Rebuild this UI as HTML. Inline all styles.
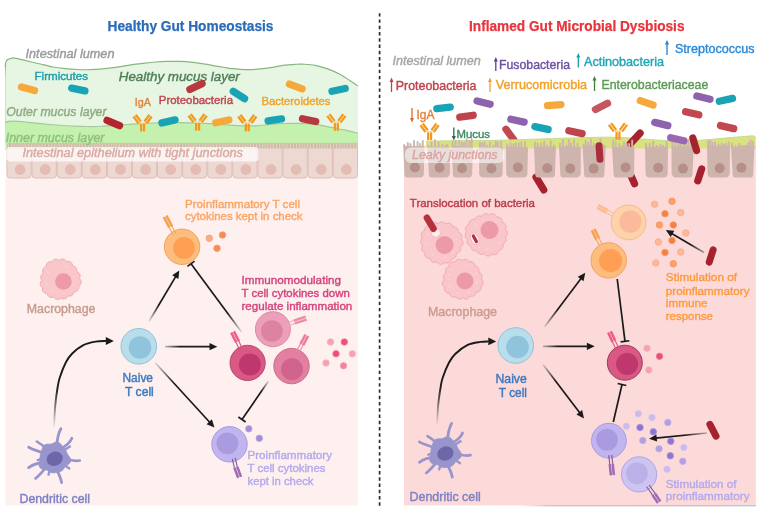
<!DOCTYPE html>
<html><head><meta charset="utf-8"><title>Gut homeostasis vs dysbiosis</title>
<style>
html,body{margin:0;padding:0;background:#fff;}
body{width:763px;height:513px;overflow:hidden;}
svg{display:block;font-family:"Liberation Sans", sans-serif;}
</style></head><body>
<svg width="763" height="513" viewBox="0 0 763 513">
<rect width="763" height="513" fill="#ffffff"/>
<line x1="379.6" y1="13.2" x2="379.6" y2="506" stroke="#2a2a2a" stroke-width="1.7" stroke-dasharray="3.4 2.871"/>
<rect x="5.5" y="176" width="352.5" height="329.4" fill="#fdf0ef"/>
<path d="M5.5,67 C5.52,66.30 5.25,64.03 5.6,62.8 C5.95,61.57 6.62,60.35 7.6,59.6 C8.58,58.85 10.27,58.55 11.5,58.3 C12.73,58.05 12.75,57.75 15,58.1 C17.25,58.45 21.22,59.50 25,60.4 C28.78,61.30 33.87,62.60 37.7,63.5 C41.53,64.40 45.52,65.22 48,65.8 C50.48,66.38 49.73,66.53 52.6,67 C55.47,67.47 61.02,68.18 65.2,68.6 C69.38,69.02 73.52,69.32 77.7,69.5 C81.88,69.68 86.10,69.80 90.3,69.7 C94.50,69.60 98.70,69.28 102.9,68.9 C107.10,68.52 111.32,68.00 115.5,67.4 C119.68,66.80 124.58,65.85 128,65.3 C131.42,64.75 133.57,64.43 136,64.1 C138.43,63.77 139.40,63.65 142.6,63.3 C145.80,62.95 151.02,62.32 155.2,62 C159.38,61.68 163.52,61.50 167.7,61.4 C171.88,61.30 176.10,61.23 180.3,61.4 C184.50,61.57 188.70,61.93 192.9,62.4 C197.10,62.87 201.32,63.53 205.5,64.2 C209.68,64.87 214.58,65.82 218,66.4 C221.42,66.98 223.57,67.32 226,67.7 C228.43,68.08 229.40,68.38 232.6,68.7 C235.80,69.02 241.02,69.52 245.2,69.6 C249.38,69.68 253.52,69.52 257.7,69.2 C261.88,68.88 266.10,68.33 270.3,67.7 C274.50,67.07 278.70,65.97 282.9,65.4 C287.10,64.83 292.22,64.50 295.5,64.3 C298.78,64.10 299.32,64.03 302.6,64.2 C305.88,64.37 311.02,64.52 315.2,65.3 C319.38,66.08 323.52,67.37 327.7,68.9 C331.88,70.43 336.10,72.23 340.3,74.5 C344.50,76.77 349.97,80.55 352.9,82.5 C355.83,84.45 357.07,85.58 357.9,86.2 L357.9,150 L5.5,150 Z" fill="#e7f6e3"/>
<defs><linearGradient id="lb" gradientUnits="userSpaceOnUse" x1="0" y1="62" x2="0" y2="80"><stop offset="0" stop-color="#86b77f"/><stop offset="1" stop-color="#cde6c9"/></linearGradient></defs>
<line x1="5.5" y1="65" x2="5.5" y2="143" stroke="url(#lb)" stroke-width="1.1"/>
<path d="M5.5,67 C5.52,66.30 5.25,64.03 5.6,62.8 C5.95,61.57 6.62,60.35 7.6,59.6 C8.58,58.85 10.27,58.55 11.5,58.3 C12.73,58.05 12.75,57.75 15,58.1 C17.25,58.45 21.22,59.50 25,60.4 C28.78,61.30 33.87,62.60 37.7,63.5 C41.53,64.40 45.52,65.22 48,65.8 C50.48,66.38 49.73,66.53 52.6,67 C55.47,67.47 61.02,68.18 65.2,68.6 C69.38,69.02 73.52,69.32 77.7,69.5 C81.88,69.68 86.10,69.80 90.3,69.7 C94.50,69.60 98.70,69.28 102.9,68.9 C107.10,68.52 111.32,68.00 115.5,67.4 C119.68,66.80 124.58,65.85 128,65.3 C131.42,64.75 133.57,64.43 136,64.1 C138.43,63.77 139.40,63.65 142.6,63.3 C145.80,62.95 151.02,62.32 155.2,62 C159.38,61.68 163.52,61.50 167.7,61.4 C171.88,61.30 176.10,61.23 180.3,61.4 C184.50,61.57 188.70,61.93 192.9,62.4 C197.10,62.87 201.32,63.53 205.5,64.2 C209.68,64.87 214.58,65.82 218,66.4 C221.42,66.98 223.57,67.32 226,67.7 C228.43,68.08 229.40,68.38 232.6,68.7 C235.80,69.02 241.02,69.52 245.2,69.6 C249.38,69.68 253.52,69.52 257.7,69.2 C261.88,68.88 266.10,68.33 270.3,67.7 C274.50,67.07 278.70,65.97 282.9,65.4 C287.10,64.83 292.22,64.50 295.5,64.3 C298.78,64.10 299.32,64.03 302.6,64.2 C305.88,64.37 311.02,64.52 315.2,65.3 C319.38,66.08 323.52,67.37 327.7,68.9 C331.88,70.43 336.10,72.23 340.3,74.5 C344.50,76.77 349.97,80.55 352.9,82.5 C355.83,84.45 357.07,85.58 357.9,86.2" fill="none" stroke="#86b77f" stroke-width="1.2"/>
<path d="M5.5,123.5 C5.63,123.25 5.72,122.37 6.3,122 C6.88,121.63 7.95,121.45 9,121.3 C10.05,121.15 11.10,121.08 12.6,121.1 C14.10,121.12 15.90,121.25 18,121.4 C20.10,121.55 21.92,121.68 25.2,122 C28.48,122.32 33.52,122.88 37.7,123.3 C41.88,123.72 46.08,124.13 50.3,124.5 C54.52,124.87 58.80,125.22 63,125.5 C67.20,125.78 71.33,126.03 75.5,126.2 C79.67,126.37 84.58,126.45 88,126.5 C91.42,126.55 93.57,126.55 96,126.5 C98.43,126.45 99.43,126.38 102.6,126.2 C105.77,126.02 110.82,125.68 115,125.4 C119.18,125.12 123.48,124.80 127.7,124.5 C131.92,124.20 136.10,123.85 140.3,123.6 C144.50,123.35 148.70,123.17 152.9,123 C157.10,122.83 160.98,122.67 165.5,122.6 C170.02,122.53 175.48,122.55 180,122.6 C184.52,122.65 188.40,122.78 192.6,122.9 C196.80,123.02 201.02,123.08 205.2,123.3 C209.38,123.52 213.52,123.88 217.7,124.2 C221.88,124.52 226.10,124.93 230.3,125.2 C234.50,125.47 238.70,125.70 242.9,125.8 C247.10,125.90 251.32,126.00 255.5,125.8 C259.68,125.60 264.58,124.93 268,124.6 C271.42,124.27 273.57,123.98 276,123.8 C278.43,123.62 279.40,123.58 282.6,123.5 C285.80,123.42 291.02,123.28 295.2,123.3 C299.38,123.32 303.52,123.28 307.7,123.6 C311.88,123.92 316.10,124.52 320.3,125.2 C324.50,125.88 328.70,126.87 332.9,127.7 C337.10,128.53 341.33,129.27 345.5,130.2 C349.67,131.13 355.83,132.78 357.9,133.3 L357.9,150 L5.5,150 Z" fill="#c4f1ad"/>
<path d="M5.5,123.5 C5.63,123.25 5.72,122.37 6.3,122 C6.88,121.63 7.95,121.45 9,121.3 C10.05,121.15 11.10,121.08 12.6,121.1 C14.10,121.12 15.90,121.25 18,121.4 C20.10,121.55 21.92,121.68 25.2,122 C28.48,122.32 33.52,122.88 37.7,123.3 C41.88,123.72 46.08,124.13 50.3,124.5 C54.52,124.87 58.80,125.22 63,125.5 C67.20,125.78 71.33,126.03 75.5,126.2 C79.67,126.37 84.58,126.45 88,126.5 C91.42,126.55 93.57,126.55 96,126.5 C98.43,126.45 99.43,126.38 102.6,126.2 C105.77,126.02 110.82,125.68 115,125.4 C119.18,125.12 123.48,124.80 127.7,124.5 C131.92,124.20 136.10,123.85 140.3,123.6 C144.50,123.35 148.70,123.17 152.9,123 C157.10,122.83 160.98,122.67 165.5,122.6 C170.02,122.53 175.48,122.55 180,122.6 C184.52,122.65 188.40,122.78 192.6,122.9 C196.80,123.02 201.02,123.08 205.2,123.3 C209.38,123.52 213.52,123.88 217.7,124.2 C221.88,124.52 226.10,124.93 230.3,125.2 C234.50,125.47 238.70,125.70 242.9,125.8 C247.10,125.90 251.32,126.00 255.5,125.8 C259.68,125.60 264.58,124.93 268,124.6 C271.42,124.27 273.57,123.98 276,123.8 C278.43,123.62 279.40,123.58 282.6,123.5 C285.80,123.42 291.02,123.28 295.2,123.3 C299.38,123.32 303.52,123.28 307.7,123.6 C311.88,123.92 316.10,124.52 320.3,125.2 C324.50,125.88 328.70,126.87 332.9,127.7 C337.10,128.53 341.33,129.27 345.5,130.2 C349.67,131.13 355.83,132.78 357.9,133.3" fill="none" stroke="#a4c89d" stroke-width="1.2"/>
<path d="M7.70,149.2V143.9a0.85,0.85 0 0 1 1.7,0V149.2M10.55,149.2V143.9a0.85,0.85 0 0 1 1.7,0V149.2M13.40,149.2V143.9a0.85,0.85 0 0 1 1.7,0V149.2M16.25,149.2V143.9a0.85,0.85 0 0 1 1.7,0V149.2M19.10,149.2V143.9a0.85,0.85 0 0 1 1.7,0V149.2M21.95,149.2V143.9a0.85,0.85 0 0 1 1.7,0V149.2M24.80,149.2V143.9a0.85,0.85 0 0 1 1.7,0V149.2M27.65,149.2V143.9a0.85,0.85 0 0 1 1.7,0V149.2M30.50,149.2V143.9a0.85,0.85 0 0 1 1.7,0V149.2M33.35,149.2V143.9a0.85,0.85 0 0 1 1.7,0V149.2M36.20,149.2V143.9a0.85,0.85 0 0 1 1.7,0V149.2M39.05,149.2V143.9a0.85,0.85 0 0 1 1.7,0V149.2M41.90,149.2V143.9a0.85,0.85 0 0 1 1.7,0V149.2M44.75,149.2V143.9a0.85,0.85 0 0 1 1.7,0V149.2M47.60,149.2V143.9a0.85,0.85 0 0 1 1.7,0V149.2M50.45,149.2V143.9a0.85,0.85 0 0 1 1.7,0V149.2M53.30,149.2V143.9a0.85,0.85 0 0 1 1.7,0V149.2M56.15,149.2V143.9a0.85,0.85 0 0 1 1.7,0V149.2M59.00,149.2V143.9a0.85,0.85 0 0 1 1.7,0V149.2M61.85,149.2V143.9a0.85,0.85 0 0 1 1.7,0V149.2M64.70,149.2V143.9a0.85,0.85 0 0 1 1.7,0V149.2M67.55,149.2V143.9a0.85,0.85 0 0 1 1.7,0V149.2M70.40,149.2V143.9a0.85,0.85 0 0 1 1.7,0V149.2M73.25,149.2V143.9a0.85,0.85 0 0 1 1.7,0V149.2M76.10,149.2V143.9a0.85,0.85 0 0 1 1.7,0V149.2M78.95,149.2V143.9a0.85,0.85 0 0 1 1.7,0V149.2M81.80,149.2V143.9a0.85,0.85 0 0 1 1.7,0V149.2M84.65,149.2V143.9a0.85,0.85 0 0 1 1.7,0V149.2M87.50,149.2V143.9a0.85,0.85 0 0 1 1.7,0V149.2M90.35,149.2V143.9a0.85,0.85 0 0 1 1.7,0V149.2M93.20,149.2V143.9a0.85,0.85 0 0 1 1.7,0V149.2M96.05,149.2V143.9a0.85,0.85 0 0 1 1.7,0V149.2M98.90,149.2V143.9a0.85,0.85 0 0 1 1.7,0V149.2M101.75,149.2V143.9a0.85,0.85 0 0 1 1.7,0V149.2M104.60,149.2V143.9a0.85,0.85 0 0 1 1.7,0V149.2M107.45,149.2V143.9a0.85,0.85 0 0 1 1.7,0V149.2M110.30,149.2V143.9a0.85,0.85 0 0 1 1.7,0V149.2M113.15,149.2V143.9a0.85,0.85 0 0 1 1.7,0V149.2M116.00,149.2V143.9a0.85,0.85 0 0 1 1.7,0V149.2M118.85,149.2V143.9a0.85,0.85 0 0 1 1.7,0V149.2M121.70,149.2V143.9a0.85,0.85 0 0 1 1.7,0V149.2M124.55,149.2V143.9a0.85,0.85 0 0 1 1.7,0V149.2M127.40,149.2V143.9a0.85,0.85 0 0 1 1.7,0V149.2M130.25,149.2V143.9a0.85,0.85 0 0 1 1.7,0V149.2M133.10,149.2V143.9a0.85,0.85 0 0 1 1.7,0V149.2M135.95,149.2V143.9a0.85,0.85 0 0 1 1.7,0V149.2M138.80,149.2V143.9a0.85,0.85 0 0 1 1.7,0V149.2M141.65,149.2V143.9a0.85,0.85 0 0 1 1.7,0V149.2M144.50,149.2V143.9a0.85,0.85 0 0 1 1.7,0V149.2M147.35,149.2V143.9a0.85,0.85 0 0 1 1.7,0V149.2M150.20,149.2V143.9a0.85,0.85 0 0 1 1.7,0V149.2M153.05,149.2V143.9a0.85,0.85 0 0 1 1.7,0V149.2M155.90,149.2V143.9a0.85,0.85 0 0 1 1.7,0V149.2M158.75,149.2V143.9a0.85,0.85 0 0 1 1.7,0V149.2M161.60,149.2V143.9a0.85,0.85 0 0 1 1.7,0V149.2M164.45,149.2V143.9a0.85,0.85 0 0 1 1.7,0V149.2M167.30,149.2V143.9a0.85,0.85 0 0 1 1.7,0V149.2M170.15,149.2V143.9a0.85,0.85 0 0 1 1.7,0V149.2M173.00,149.2V143.9a0.85,0.85 0 0 1 1.7,0V149.2M175.85,149.2V143.9a0.85,0.85 0 0 1 1.7,0V149.2M178.70,149.2V143.9a0.85,0.85 0 0 1 1.7,0V149.2M181.55,149.2V143.9a0.85,0.85 0 0 1 1.7,0V149.2M184.40,149.2V143.9a0.85,0.85 0 0 1 1.7,0V149.2M187.25,149.2V143.9a0.85,0.85 0 0 1 1.7,0V149.2M190.10,149.2V143.9a0.85,0.85 0 0 1 1.7,0V149.2M192.95,149.2V143.9a0.85,0.85 0 0 1 1.7,0V149.2M195.80,149.2V143.9a0.85,0.85 0 0 1 1.7,0V149.2M198.65,149.2V143.9a0.85,0.85 0 0 1 1.7,0V149.2M201.50,149.2V143.9a0.85,0.85 0 0 1 1.7,0V149.2M204.35,149.2V143.9a0.85,0.85 0 0 1 1.7,0V149.2M207.20,149.2V143.9a0.85,0.85 0 0 1 1.7,0V149.2M210.05,149.2V143.9a0.85,0.85 0 0 1 1.7,0V149.2M212.90,149.2V143.9a0.85,0.85 0 0 1 1.7,0V149.2M215.75,149.2V143.9a0.85,0.85 0 0 1 1.7,0V149.2M218.60,149.2V143.9a0.85,0.85 0 0 1 1.7,0V149.2M221.45,149.2V143.9a0.85,0.85 0 0 1 1.7,0V149.2M224.30,149.2V143.9a0.85,0.85 0 0 1 1.7,0V149.2M227.15,149.2V143.9a0.85,0.85 0 0 1 1.7,0V149.2M230.00,149.2V143.9a0.85,0.85 0 0 1 1.7,0V149.2M232.85,149.2V143.9a0.85,0.85 0 0 1 1.7,0V149.2M235.70,149.2V143.9a0.85,0.85 0 0 1 1.7,0V149.2M238.55,149.2V143.9a0.85,0.85 0 0 1 1.7,0V149.2M241.40,149.2V143.9a0.85,0.85 0 0 1 1.7,0V149.2M244.25,149.2V143.9a0.85,0.85 0 0 1 1.7,0V149.2M247.10,149.2V143.9a0.85,0.85 0 0 1 1.7,0V149.2M249.95,149.2V143.9a0.85,0.85 0 0 1 1.7,0V149.2M252.80,149.2V143.9a0.85,0.85 0 0 1 1.7,0V149.2M255.65,149.2V143.9a0.85,0.85 0 0 1 1.7,0V149.2M258.50,149.2V143.9a0.85,0.85 0 0 1 1.7,0V149.2M261.35,149.2V143.9a0.85,0.85 0 0 1 1.7,0V149.2M264.20,149.2V143.9a0.85,0.85 0 0 1 1.7,0V149.2M267.05,149.2V143.9a0.85,0.85 0 0 1 1.7,0V149.2M269.90,149.2V143.9a0.85,0.85 0 0 1 1.7,0V149.2M272.75,149.2V143.9a0.85,0.85 0 0 1 1.7,0V149.2M275.60,149.2V143.9a0.85,0.85 0 0 1 1.7,0V149.2M278.45,149.2V143.9a0.85,0.85 0 0 1 1.7,0V149.2M281.30,149.2V143.9a0.85,0.85 0 0 1 1.7,0V149.2M284.15,149.2V143.9a0.85,0.85 0 0 1 1.7,0V149.2M287.00,149.2V143.9a0.85,0.85 0 0 1 1.7,0V149.2M289.85,149.2V143.9a0.85,0.85 0 0 1 1.7,0V149.2M292.70,149.2V143.9a0.85,0.85 0 0 1 1.7,0V149.2M295.55,149.2V143.9a0.85,0.85 0 0 1 1.7,0V149.2M298.40,149.2V143.9a0.85,0.85 0 0 1 1.7,0V149.2M301.25,149.2V143.9a0.85,0.85 0 0 1 1.7,0V149.2M304.10,149.2V143.9a0.85,0.85 0 0 1 1.7,0V149.2M306.95,149.2V143.9a0.85,0.85 0 0 1 1.7,0V149.2M309.80,149.2V143.9a0.85,0.85 0 0 1 1.7,0V149.2M312.65,149.2V143.9a0.85,0.85 0 0 1 1.7,0V149.2M315.50,149.2V143.9a0.85,0.85 0 0 1 1.7,0V149.2M318.35,149.2V143.9a0.85,0.85 0 0 1 1.7,0V149.2M321.20,149.2V143.9a0.85,0.85 0 0 1 1.7,0V149.2M324.05,149.2V143.9a0.85,0.85 0 0 1 1.7,0V149.2M326.90,149.2V143.9a0.85,0.85 0 0 1 1.7,0V149.2M329.75,149.2V143.9a0.85,0.85 0 0 1 1.7,0V149.2M332.60,149.2V143.9a0.85,0.85 0 0 1 1.7,0V149.2M335.45,149.2V143.9a0.85,0.85 0 0 1 1.7,0V149.2M338.30,149.2V143.9a0.85,0.85 0 0 1 1.7,0V149.2M341.15,149.2V143.9a0.85,0.85 0 0 1 1.7,0V149.2M344.00,149.2V143.9a0.85,0.85 0 0 1 1.7,0V149.2M346.85,149.2V143.9a0.85,0.85 0 0 1 1.7,0V149.2M349.70,149.2V143.9a0.85,0.85 0 0 1 1.7,0V149.2M352.55,149.2V143.9a0.85,0.85 0 0 1 1.7,0V149.2M355.40,149.2V143.9a0.85,0.85 0 0 1 1.7,0V149.2" fill="#edd9d2" stroke="#c99f97" stroke-width="0.65"/>
<path d="M6.90,148.6 V174.8 a3.2,3.2 0 0 0 3.2,3.2 H28.00 a3.2,3.2 0 0 0 3.2,-3.2 V148.6" fill="#edd9d2" stroke="#dcbab1" stroke-width="0.9"/>
<circle cx="20.05" cy="169.5" r="5.4" fill="#e3bdb3"/>
<path d="M32.00,148.6 V174.8 a3.2,3.2 0 0 0 3.2,3.2 H53.10 a3.2,3.2 0 0 0 3.2,-3.2 V148.6" fill="#edd9d2" stroke="#dcbab1" stroke-width="0.9"/>
<circle cx="45.15" cy="169.5" r="5.4" fill="#e3bdb3"/>
<path d="M57.10,148.6 V174.8 a3.2,3.2 0 0 0 3.2,3.2 H78.20 a3.2,3.2 0 0 0 3.2,-3.2 V148.6" fill="#edd9d2" stroke="#dcbab1" stroke-width="0.9"/>
<circle cx="70.25" cy="169.5" r="5.4" fill="#e3bdb3"/>
<path d="M82.20,148.6 V174.8 a3.2,3.2 0 0 0 3.2,3.2 H103.30 a3.2,3.2 0 0 0 3.2,-3.2 V148.6" fill="#edd9d2" stroke="#dcbab1" stroke-width="0.9"/>
<circle cx="95.35" cy="169.5" r="5.4" fill="#e3bdb3"/>
<path d="M107.30,148.6 V174.8 a3.2,3.2 0 0 0 3.2,3.2 H128.40 a3.2,3.2 0 0 0 3.2,-3.2 V148.6" fill="#edd9d2" stroke="#dcbab1" stroke-width="0.9"/>
<circle cx="120.45" cy="169.5" r="5.4" fill="#e3bdb3"/>
<path d="M132.40,148.6 V174.8 a3.2,3.2 0 0 0 3.2,3.2 H153.50 a3.2,3.2 0 0 0 3.2,-3.2 V148.6" fill="#edd9d2" stroke="#dcbab1" stroke-width="0.9"/>
<circle cx="145.55" cy="169.5" r="5.4" fill="#e3bdb3"/>
<path d="M157.50,148.6 V174.8 a3.2,3.2 0 0 0 3.2,3.2 H178.60 a3.2,3.2 0 0 0 3.2,-3.2 V148.6" fill="#edd9d2" stroke="#dcbab1" stroke-width="0.9"/>
<circle cx="170.65" cy="169.5" r="5.4" fill="#e3bdb3"/>
<path d="M182.60,148.6 V174.8 a3.2,3.2 0 0 0 3.2,3.2 H203.70 a3.2,3.2 0 0 0 3.2,-3.2 V148.6" fill="#edd9d2" stroke="#dcbab1" stroke-width="0.9"/>
<circle cx="195.75" cy="169.5" r="5.4" fill="#e3bdb3"/>
<path d="M207.70,148.6 V174.8 a3.2,3.2 0 0 0 3.2,3.2 H228.80 a3.2,3.2 0 0 0 3.2,-3.2 V148.6" fill="#edd9d2" stroke="#dcbab1" stroke-width="0.9"/>
<circle cx="220.85" cy="169.5" r="5.4" fill="#e3bdb3"/>
<path d="M232.80,148.6 V174.8 a3.2,3.2 0 0 0 3.2,3.2 H253.90 a3.2,3.2 0 0 0 3.2,-3.2 V148.6" fill="#edd9d2" stroke="#dcbab1" stroke-width="0.9"/>
<circle cx="245.95" cy="169.5" r="5.4" fill="#e3bdb3"/>
<path d="M257.90,148.6 V174.8 a3.2,3.2 0 0 0 3.2,3.2 H279.00 a3.2,3.2 0 0 0 3.2,-3.2 V148.6" fill="#edd9d2" stroke="#dcbab1" stroke-width="0.9"/>
<circle cx="271.05" cy="169.5" r="5.4" fill="#e3bdb3"/>
<path d="M283.00,148.6 V174.8 a3.2,3.2 0 0 0 3.2,3.2 H304.10 a3.2,3.2 0 0 0 3.2,-3.2 V148.6" fill="#edd9d2" stroke="#dcbab1" stroke-width="0.9"/>
<circle cx="296.15" cy="169.5" r="5.4" fill="#e3bdb3"/>
<path d="M308.10,148.6 V174.8 a3.2,3.2 0 0 0 3.2,3.2 H329.20 a3.2,3.2 0 0 0 3.2,-3.2 V148.6" fill="#edd9d2" stroke="#dcbab1" stroke-width="0.9"/>
<circle cx="321.25" cy="169.5" r="5.4" fill="#e3bdb3"/>
<path d="M333.20,148.6 V174.8 a3.2,3.2 0 0 0 3.2,3.2 H354.30 a3.2,3.2 0 0 0 3.2,-3.2 V148.6" fill="#edd9d2" stroke="#dcbab1" stroke-width="0.9"/>
<circle cx="346.35" cy="169.5" r="5.4" fill="#e3bdb3"/>
<rect x="6.3" y="147" width="252.3" height="14.6" rx="4" fill="#ffffff" opacity="0.72"/>
<text x="25.5" y="57.9" font-size="12.4" fill="#9b9b9b" stroke="#9b9b9b" stroke-width="0.4" font-style="italic" textLength="89.0" lengthAdjust="spacingAndGlyphs" >Intestinal lumen</text>
<text x="34.5" y="80.1" font-size="11.5" fill="#1d9cab" stroke="#1d9cab" stroke-width="0.4" textLength="53.5" lengthAdjust="spacingAndGlyphs" >Firmicutes</text>
<text x="118.8" y="81.2" font-size="13.3" fill="#4e7f57" stroke="#4e7f57" stroke-width="0.4" font-style="italic" textLength="121.0" lengthAdjust="spacingAndGlyphs" >Healthy mucus layer</text>
<text x="134.7" y="106.2" font-size="11.6" fill="#e2853f" stroke="#e2853f" stroke-width="0.4" textLength="16.1" lengthAdjust="spacingAndGlyphs" >IgA</text>
<text x="158.8" y="104.4" font-size="11.6" fill="#c0434c" stroke="#c0434c" stroke-width="0.4" textLength="74.2" lengthAdjust="spacingAndGlyphs" >Proteobacteria</text>
<text x="261.5" y="105.1" font-size="11.6" fill="#f0a226" stroke="#f0a226" stroke-width="0.4" textLength="69.0" lengthAdjust="spacingAndGlyphs" >Bacteroidetes</text>
<text x="6.3" y="116.1" font-size="12.5" fill="#8dab82" stroke="#8dab82" stroke-width="0.4" font-style="italic" textLength="100.2" lengthAdjust="spacingAndGlyphs" >Outer mucus layer</text>
<text x="5.7" y="141.5" font-size="12.5" fill="#8fc07e" stroke="#8fc07e" stroke-width="0.4" font-style="italic" textLength="98.8" lengthAdjust="spacingAndGlyphs" >Inner mucus layer</text>
<text x="22.4" y="156.7" font-size="12.4" fill="#dba8a2" stroke="#dba8a2" stroke-width="0.4" font-style="italic" textLength="220.6" lengthAdjust="spacingAndGlyphs" >Intestinal epithelium with tight junctions</text>
<rect x="-10.4" y="-3.65" width="20.8" height="7.3" rx="3.65" fill="#f6a93b" opacity="1" transform="translate(28 88.8) rotate(15)" />
<rect x="-10.4" y="-3.65" width="20.8" height="7.3" rx="3.65" fill="#18a4b4" opacity="1" transform="translate(78.3 89.5) rotate(12)" />
<rect x="-10.4" y="-3.65" width="20.8" height="7.3" rx="3.65" fill="#b3242e" opacity="1" transform="translate(113.3 123) rotate(22.7)" />
<rect x="-10.4" y="-3.65" width="20.8" height="7.3" rx="3.65" fill="#18a4b4" opacity="1" transform="translate(168.5 121.4) rotate(-13)" />
<rect x="-10.4" y="-3.65" width="20.8" height="7.3" rx="3.65" fill="#b83840" opacity="1" transform="translate(196 86.5) rotate(-25)" />
<rect x="-10.4" y="-3.65" width="20.8" height="7.3" rx="3.65" fill="#18a4b4" opacity="1" transform="translate(238.9 95) rotate(33)" />
<rect x="-10.4" y="-3.65" width="20.8" height="7.3" rx="3.65" fill="#f6a93b" opacity="1" transform="translate(295.8 86.5) rotate(21)" />
<rect x="-10.4" y="-3.65" width="20.8" height="7.3" rx="3.65" fill="#18a4b4" opacity="1" transform="translate(338.6 89.9) rotate(-12)" />
<rect x="-10.4" y="-3.65" width="20.8" height="7.3" rx="3.65" fill="#f6a93b" opacity="1" transform="translate(222.3 121.4) rotate(-12)" />
<rect x="-10.4" y="-3.65" width="20.8" height="7.3" rx="3.65" fill="#18a4b4" opacity="1" transform="translate(274.8 119.9) rotate(-8)" />
<rect x="-10.4" y="-3.65" width="20.8" height="7.3" rx="3.65" fill="#b83840" opacity="1" transform="translate(309.1 120.1) rotate(12)" />
<g transform="translate(142.6 131.4) scale(1.0)"><rect x="-2.6" y="-9.2" width="2.3" height="9.2" fill="#f39a1e"/><rect x="0.3" y="-9.2" width="2.3" height="9.2" fill="#f39a1e"/><rect x="-2.6" y="-9.4" width="5.2" height="1.8" fill="#fbe3c0" opacity="0.8"/><g transform="translate(-2.6 -8.6) rotate(-37)"><rect x="-2.6" y="-9" width="2.3" height="8.4" fill="#f39a1e"/><rect x="0.3" y="-9" width="2.3" height="8.4" fill="#f39a1e"/></g><g transform="translate(2.6 -8.6) rotate(37)"><rect x="0.3" y="-9" width="2.3" height="8.4" fill="#f39a1e"/><rect x="-2.6" y="-9" width="2.3" height="8.4" fill="#f39a1e"/></g></g>
<g transform="translate(197.6 130.6) scale(1.0)"><rect x="-2.6" y="-9.2" width="2.3" height="9.2" fill="#f39a1e"/><rect x="0.3" y="-9.2" width="2.3" height="9.2" fill="#f39a1e"/><rect x="-2.6" y="-9.4" width="5.2" height="1.8" fill="#fbe3c0" opacity="0.8"/><g transform="translate(-2.6 -8.6) rotate(-37)"><rect x="-2.6" y="-9" width="2.3" height="8.4" fill="#f39a1e"/><rect x="0.3" y="-9" width="2.3" height="8.4" fill="#f39a1e"/></g><g transform="translate(2.6 -8.6) rotate(37)"><rect x="0.3" y="-9" width="2.3" height="8.4" fill="#f39a1e"/><rect x="-2.6" y="-9" width="2.3" height="8.4" fill="#f39a1e"/></g></g>
<g transform="translate(247.3 131.4) scale(1.0)"><rect x="-2.6" y="-9.2" width="2.3" height="9.2" fill="#f39a1e"/><rect x="0.3" y="-9.2" width="2.3" height="9.2" fill="#f39a1e"/><rect x="-2.6" y="-9.4" width="5.2" height="1.8" fill="#fbe3c0" opacity="0.8"/><g transform="translate(-2.6 -8.6) rotate(-37)"><rect x="-2.6" y="-9" width="2.3" height="8.4" fill="#f39a1e"/><rect x="0.3" y="-9" width="2.3" height="8.4" fill="#f39a1e"/></g><g transform="translate(2.6 -8.6) rotate(37)"><rect x="0.3" y="-9" width="2.3" height="8.4" fill="#f39a1e"/><rect x="-2.6" y="-9" width="2.3" height="8.4" fill="#f39a1e"/></g></g>
<g transform="translate(336.4 130.8) scale(1.0)"><rect x="-2.6" y="-9.2" width="2.3" height="9.2" fill="#f39a1e"/><rect x="0.3" y="-9.2" width="2.3" height="9.2" fill="#f39a1e"/><rect x="-2.6" y="-9.4" width="5.2" height="1.8" fill="#fbe3c0" opacity="0.8"/><g transform="translate(-2.6 -8.6) rotate(-37)"><rect x="-2.6" y="-9" width="2.3" height="8.4" fill="#f39a1e"/><rect x="0.3" y="-9" width="2.3" height="8.4" fill="#f39a1e"/></g><g transform="translate(2.6 -8.6) rotate(37)"><rect x="0.3" y="-9" width="2.3" height="8.4" fill="#f39a1e"/><rect x="-2.6" y="-9" width="2.3" height="8.4" fill="#f39a1e"/></g></g>
<text x="107.5" y="30.8" font-size="14.0" fill="#2a6cb8" stroke="#2a6cb8" stroke-width="0.25" font-weight="bold" textLength="166.0" lengthAdjust="spacingAndGlyphs" >Healthy Gut Homeostasis</text>
<path d="M80.25,279.40 L80.80,280.33 L81.14,281.28 L81.24,282.25 L81.09,283.19 L80.72,284.08 L80.12,284.90 L79.30,285.61 L78.78,286.37 L78.93,287.41 L78.85,288.38 L78.56,289.28 L78.07,290.08 L77.39,290.75 L76.55,291.28 L75.56,291.65 L74.45,291.85 L73.90,292.50 L73.61,293.43 L73.16,294.23 L72.57,294.91 L71.86,295.45 L71.04,295.82 L70.13,296.01 L69.15,296.03 L68.11,295.83 L67.58,296.67 L66.99,297.49 L66.29,298.15 L65.51,298.63 L64.65,298.91 L63.75,298.97 L62.83,298.82 L61.92,298.47 L61.04,298.02 L60.20,298.75 L59.31,299.22 L58.39,299.49 L57.47,299.54 L56.58,299.37 L55.73,298.99 L54.95,298.41 L54.27,297.65 L53.51,297.21 L52.47,297.47 L51.47,297.52 L50.53,297.38 L49.66,297.04 L48.90,296.53 L48.25,295.84 L47.75,295.01 L47.41,294.03 L46.62,293.61 L45.55,293.41 L44.61,293.02 L43.80,292.48 L43.17,291.77 L42.73,290.93 L42.49,289.98 L42.45,288.95 L42.68,287.84 L41.91,287.22 L41.17,286.54 L40.64,285.76 L40.31,284.89 L40.21,283.96 L40.33,283.01 L40.66,282.05 L41.21,281.11 L41.83,280.23 L41.26,279.40 L40.93,278.53 L40.78,277.65 L40.81,276.77 L41.04,275.92 L41.45,275.12 L42.03,274.38 L42.77,273.74 L43.16,273.01 L42.84,271.98 L42.72,270.98 L42.79,270.03 L43.04,269.15 L43.48,268.37 L44.09,267.70 L44.86,267.17 L45.78,266.80 L46.16,265.97 L46.32,264.88 L46.67,263.91 L47.20,263.09 L47.88,262.44 L48.71,261.99 L49.64,261.73 L50.67,261.68 L51.77,261.89 L52.37,261.08 L53.04,260.31 L53.81,259.73 L54.66,259.34 L55.58,259.17 L56.53,259.20 L57.50,259.45 L58.44,259.90 L59.35,260.42 L60.20,259.76 L61.10,259.35 L62.02,259.13 L62.95,259.12 L63.84,259.32 L64.69,259.72 L65.46,260.33 L66.14,261.12 L66.88,261.60 L67.90,261.38 L68.87,261.39 L69.78,261.60 L70.59,262.02 L71.28,262.62 L71.83,263.39 L72.24,264.31 L72.47,265.36 L73.15,265.86 L74.09,266.12 L74.93,266.53 L75.62,267.10 L76.17,267.80 L76.55,268.60 L76.77,269.50 L76.81,270.46 L76.63,271.49 L77.49,272.01 L78.36,272.59 L79.07,273.27 L79.60,274.05 L79.95,274.89 L80.09,275.79 L80.04,276.71 L79.78,277.64 L79.43,278.54Z" fill="#f9c6ca" stroke="#f4a9b2" stroke-width="1" stroke-linejoin="round"/>
<circle cx="73.6" cy="285.1" r="0.8" fill="#fcdcde"/>
<circle cx="46.5" cy="284.4" r="0.8" fill="#fcdcde"/>
<circle cx="66.8" cy="266.4" r="0.8" fill="#fcdcde"/>
<circle cx="64.3" cy="293.4" r="0.8" fill="#fcdcde"/>
<circle cx="47.7" cy="272.0" r="0.8" fill="#fcdcde"/>
<circle cx="74.4" cy="276.3" r="0.8" fill="#fcdcde"/>
<circle cx="52.0" cy="291.4" r="0.8" fill="#fcdcde"/>
<circle cx="63.4" cy="281.5" r="8.3" fill="#ec9aa6"/>
<text x="26.8" y="312.6" font-size="12.3" fill="#c99a8e" stroke="#c99a8e" stroke-width="0.4" textLength="68.7" lengthAdjust="spacingAndGlyphs" >Macrophage</text>
<defs><linearGradient id="g1" gradientUnits="userSpaceOnUse" x1="148" y1="323" x2="179" y2="271"><stop offset="0" stop-color="#1a1a1a" stop-opacity="0"/><stop offset="0.35" stop-color="#1a1a1a" stop-opacity="1"/><stop offset="1" stop-color="#1a1a1a" stop-opacity="1"/></linearGradient></defs>
<line x1="149.00" y1="321.50" x2="175.83" y2="276.35" stroke="url(#g1)" stroke-width="1.7"/>
<polygon points="179.30,270.50 178.41,279.04 172.22,275.37" fill="#1a1a1a"/>
<defs><linearGradient id="g2" gradientUnits="userSpaceOnUse" x1="160" y1="346.7" x2="217" y2="346.7"><stop offset="0" stop-color="#1a1a1a" stop-opacity="0"/><stop offset="0.35" stop-color="#1a1a1a" stop-opacity="1"/><stop offset="1" stop-color="#1a1a1a" stop-opacity="1"/></linearGradient></defs>
<line x1="165.00" y1="346.70" x2="210.50" y2="346.70" stroke="url(#g2)" stroke-width="1.7"/>
<polygon points="217.30,346.70 209.50,350.30 209.50,343.10" fill="#1a1a1a"/>
<defs><linearGradient id="g3" gradientUnits="userSpaceOnUse" x1="153" y1="360" x2="214" y2="427"><stop offset="0" stop-color="#1a1a1a" stop-opacity="0"/><stop offset="0.35" stop-color="#1a1a1a" stop-opacity="1"/><stop offset="1" stop-color="#1a1a1a" stop-opacity="1"/></linearGradient></defs>
<line x1="155.00" y1="362.50" x2="209.91" y2="422.48" stroke="url(#g3)" stroke-width="1.7"/>
<polygon points="214.50,427.50 206.58,424.18 211.89,419.32" fill="#1a1a1a"/>
<defs><linearGradient id="g4" gradientUnits="userSpaceOnUse" x1="243" y1="334" x2="191" y2="264"><stop offset="0" stop-color="#1a1a1a" stop-opacity="0"/><stop offset="0.3" stop-color="#1a1a1a" stop-opacity="1"/><stop offset="1" stop-color="#1a1a1a" stop-opacity="1"/></linearGradient></defs>
<line x1="241.50" y1="332.00" x2="191.00" y2="263.80" stroke="url(#g4)" stroke-width="1.7"/>
<line x1="194.54" y1="261.18" x2="187.46" y2="266.42" stroke="#1a1a1a" stroke-width="1.7"/>
<defs><linearGradient id="g5" gradientUnits="userSpaceOnUse" x1="270" y1="380" x2="242" y2="419.5"><stop offset="0" stop-color="#1a1a1a" stop-opacity="0"/><stop offset="0.3" stop-color="#1a1a1a" stop-opacity="1"/><stop offset="1" stop-color="#1a1a1a" stop-opacity="1"/></linearGradient></defs>
<line x1="268.50" y1="381.00" x2="242.00" y2="419.50" stroke="url(#g5)" stroke-width="1.7"/>
<line x1="238.38" y1="417.01" x2="245.62" y2="421.99" stroke="#1a1a1a" stroke-width="1.7"/>
<defs><linearGradient id="g6" gradientUnits="userSpaceOnUse" x1="54" y1="428" x2="54" y2="340"><stop offset="0" stop-color="#1a1a1a" stop-opacity="0"/><stop offset="0.45" stop-color="#1a1a1a" stop-opacity="1"/><stop offset="1" stop-color="#1a1a1a" stop-opacity="1"/></linearGradient></defs>
<path d="M54,428 C54.20,424.33 54.62,412.67 55.2,406 C55.78,399.33 56.73,392.75 57.5,388 C58.27,383.25 58.40,381.78 59.8,377.5 C61.20,373.22 63.83,366.30 65.9,362.3 C67.97,358.30 69.37,356.33 72.2,353.5 C75.03,350.67 79.02,347.28 82.9,345.3 C86.78,343.32 91.62,342.33 95.5,341.6 C99.38,340.87 104.42,341.02 106.2,340.9" fill="none" stroke="url(#g6)" stroke-width="1.9"/>
<polygon points="113.8,341 105.8,337.1 105.8,344.9" fill="#1a1a1a"/>
<circle cx="182.1" cy="246.8" r="17.7" fill="#fdbd7e" stroke="#f3a35c" stroke-width="1"/>
<circle cx="184" cy="248" r="10.9" fill="#ff9f54"/>
<line x1="172.08" y1="226.31" x2="175.83" y2="233.81" stroke="#f5a55c" stroke-width="1.1"/>
<line x1="166.43" y1="215.61" x2="172.08" y2="226.31" stroke="#f6a04c" stroke-width="2.5"/>
<line x1="169.42" y1="227.69" x2="173.17" y2="235.19" stroke="#f5a55c" stroke-width="1.1"/>
<line x1="163.77" y1="216.99" x2="169.42" y2="227.69" stroke="#f6a04c" stroke-width="2.5"/>
<circle cx="209.3" cy="238.3" r="3.25" fill="#f9ad86" stroke="#f7a078" stroke-width="0.8"/>
<circle cx="222.5" cy="235" r="3.25" fill="#f58c52" stroke="#f79a66" stroke-width="0.8"/>
<circle cx="217" cy="248.3" r="3.25" fill="#f58c52" stroke="#f79a66" stroke-width="0.8"/>
<text x="185" y="207.6" font-size="11.6" fill="#fba564" stroke="#fba564" stroke-width="0.4" textLength="115" lengthAdjust="spacingAndGlyphs" >Proinflammatory T cell</text>
<text x="185" y="220.2" font-size="11.6" fill="#fba564" stroke="#fba564" stroke-width="0.4" textLength="117.5" lengthAdjust="spacingAndGlyphs" >cytokines kept in check</text>
<circle cx="138.8" cy="346.3" r="17.8" fill="#b9deeb" stroke="#8fc3d9" stroke-width="1"/>
<circle cx="140" cy="347.5" r="11.3" fill="#90c4dc"/>
<text x="122.5" y="381.9" font-size="12.3" fill="#3b78bf" stroke="#3b78bf" stroke-width="0.4" textLength="30.5" lengthAdjust="spacingAndGlyphs" >Naive</text>
<text x="125" y="395.6" font-size="12.3" fill="#3b78bf" stroke="#3b78bf" stroke-width="0.4" textLength="28.8" lengthAdjust="spacingAndGlyphs" >T cell</text>
<circle cx="272.9" cy="329.2" r="17.5" fill="#eb9fb9" stroke="#de8aa6" stroke-width="1"/>
<circle cx="271.9" cy="331" r="10.8" fill="#dc83a2"/>
<line x1="294.69" y1="323.42" x2="287.19" y2="326.42" stroke="#f4a8bd" stroke-width="1.1"/>
<line x1="306.69" y1="319.62" x2="294.69" y2="323.42" stroke="#f08aa6" stroke-width="2.5"/>
<line x1="293.71" y1="320.58" x2="286.21" y2="323.58" stroke="#f4a8bd" stroke-width="1.1"/>
<line x1="305.71" y1="316.78" x2="293.71" y2="320.58" stroke="#f08aa6" stroke-width="2.5"/>
<circle cx="247.6" cy="362.9" r="17.6" fill="#d95884" stroke="#b4466e" stroke-width="1"/>
<circle cx="249.9" cy="364.5" r="11" fill="#bf386d"/>
<line x1="238.95" y1="341.35" x2="242.75" y2="349.65" stroke="#e0507c" stroke-width="1.1"/>
<line x1="233.95" y1="331.35" x2="238.95" y2="341.35" stroke="#f06088" stroke-width="2.5"/>
<line x1="236.25" y1="342.65" x2="240.05" y2="350.95" stroke="#e0507c" stroke-width="1.1"/>
<line x1="231.25" y1="332.65" x2="236.25" y2="342.65" stroke="#f06088" stroke-width="2.5"/>
<circle cx="291.5" cy="366.1" r="17.7" fill="#e37fa0" stroke="#c86c8a" stroke-width="1"/>
<circle cx="292" cy="369.2" r="11" fill="#d0648c"/>
<line x1="303.11" y1="345.33" x2="298.71" y2="352.83" stroke="#ea8aa6" stroke-width="1.1"/>
<line x1="308.11" y1="335.93" x2="303.11" y2="345.33" stroke="#f07a9a" stroke-width="2.5"/>
<line x1="300.49" y1="343.87" x2="296.09" y2="351.37" stroke="#ea8aa6" stroke-width="1.1"/>
<line x1="305.49" y1="334.47" x2="300.49" y2="343.87" stroke="#f07a9a" stroke-width="2.5"/>
<circle cx="330.5" cy="342" r="3.25" fill="#f7a0b4" stroke="#f9b2c2" stroke-width="0.8"/>
<circle cx="344.3" cy="342" r="3.25" fill="#ea4f7a" stroke="#f27b9b" stroke-width="0.8"/>
<circle cx="336" cy="353.8" r="3.25" fill="#ea4f7a" stroke="#f27b9b" stroke-width="0.8"/>
<circle cx="352.3" cy="353.8" r="3.25" fill="#f7a0b4" stroke="#f9b2c2" stroke-width="0.8"/>
<circle cx="326" cy="363" r="3.25" fill="#f7a0b4" stroke="#f9b2c2" stroke-width="0.8"/>
<circle cx="343.5" cy="365.8" r="3.25" fill="#f4829d" stroke="#f8a2b6" stroke-width="0.8"/>
<text x="241.5" y="284.4" font-size="11.6" fill="#d3447c" stroke="#d3447c" stroke-width="0.4" textLength="99.5" lengthAdjust="spacingAndGlyphs" >Immunomodulating</text>
<text x="241.5" y="296.8" font-size="11.6" fill="#d3447c" stroke="#d3447c" stroke-width="0.4" textLength="108.3" lengthAdjust="spacingAndGlyphs" >T cell cytokines down</text>
<text x="241.5" y="309.9" font-size="11.6" fill="#d3447c" stroke="#d3447c" stroke-width="0.4" textLength="110.8" lengthAdjust="spacingAndGlyphs" >regulate inflammation</text>
<circle cx="229.5" cy="444.3" r="17.7" fill="#c1b5ef" stroke="#a99ce1" stroke-width="1"/>
<circle cx="227.4" cy="443.3" r="10.9" fill="#aa9be0"/>
<line x1="234.37" y1="467.65" x2="232.27" y2="458.85" stroke="#7f589c" stroke-width="1.1"/>
<line x1="238.17" y1="477.75" x2="234.37" y2="467.65" stroke="#a06ab5" stroke-width="2.5"/>
<line x1="237.23" y1="466.75" x2="235.13" y2="457.95" stroke="#7f589c" stroke-width="1.1"/>
<line x1="241.03" y1="476.85" x2="237.23" y2="466.75" stroke="#a06ab5" stroke-width="2.5"/>
<circle cx="248.8" cy="428.8" r="3.25" fill="#a58dd8" stroke="#b9a5e4" stroke-width="0.8"/>
<circle cx="259.3" cy="438.3" r="3.25" fill="#a58dd8" stroke="#b9a5e4" stroke-width="0.8"/>
<text x="247.5" y="459.4" font-size="11.6" fill="#b4a9ec" stroke="#b4a9ec" stroke-width="0.4" textLength="84.5" lengthAdjust="spacingAndGlyphs" >Proinflammatory</text>
<text x="247.5" y="471.9" font-size="11.6" fill="#b4a9ec" stroke="#b4a9ec" stroke-width="0.4" textLength="78.0" lengthAdjust="spacingAndGlyphs" >T cell cytokines</text>
<text x="247.5" y="484.9" font-size="11.6" fill="#b4a9ec" stroke="#b4a9ec" stroke-width="0.4" textLength="66.0" lengthAdjust="spacingAndGlyphs" >kept in check</text>
<g transform="translate(54 458) scale(1.0)">
<path d="M2.5,-10 Q3.3,-23 6.9,-29.2" fill="none" stroke="#9894cc" stroke-width="2.8" stroke-linecap="round"/>
<path d="M6,-9 Q15.5,-13.8 17.9,-19.8" fill="none" stroke="#9894cc" stroke-width="2.7" stroke-linecap="round"/>
<path d="M9,-7 Q13,-9.6 15.9,-11.4" fill="none" stroke="#9894cc" stroke-width="2.4" stroke-linecap="round"/>
<path d="M10,0 Q19,3.8 25.8,2.5" fill="none" stroke="#9894cc" stroke-width="2.7" stroke-linecap="round"/>
<path d="M8,5 Q12,8.5 15.3,10.5" fill="none" stroke="#9894cc" stroke-width="2.4" stroke-linecap="round"/>
<path d="M1.5,10 Q6.4,18 7.6,24.5" fill="none" stroke="#9894cc" stroke-width="2.8" stroke-linecap="round"/>
<path d="M-7,8 Q-13.5,16.5 -18.4,20.3" fill="none" stroke="#9894cc" stroke-width="2.8" stroke-linecap="round"/>
<path d="M-10,4 Q-19.5,5.5 -25.3,9.6" fill="none" stroke="#9894cc" stroke-width="2.8" stroke-linecap="round"/>
<path d="M-9,-5 Q-19,-7.3 -25.3,-10.8" fill="none" stroke="#9894cc" stroke-width="2.8" stroke-linecap="round"/>
<path d="M-7,-9 Q-13,-14 -17.2,-16.5" fill="none" stroke="#9894cc" stroke-width="2.6" stroke-linecap="round"/>
<path d="M-4,12 Q-5,15 -5.5,16.6" fill="none" stroke="#9894cc" stroke-width="2.4" stroke-linecap="round"/>
<path d="M-12,1 Q-15,1.5 -16.3,2" fill="none" stroke="#9894cc" stroke-width="2.4" stroke-linecap="round"/>
<path d="M16.09,0.00 L16.63,1.46 L16.69,2.94 L16.20,4.34 L15.24,5.55 L14.02,6.54 L12.79,7.38 L11.72,8.20 L10.85,9.10 L10.12,10.12 L9.40,11.20 L8.55,12.21 L7.53,13.04 L6.35,13.62 L5.09,13.99 L3.82,14.25 L2.55,14.48 L1.29,14.70 L0.00,14.87 L-1.30,14.88 L-2.58,14.63 L-3.79,14.13 L-4.90,13.46 L-5.96,12.77 L-7.05,12.21 L-8.28,11.83 L-9.69,11.55 L-11.22,11.22 L-12.69,10.65 L-13.90,9.73 L-14.68,8.47 L-14.96,6.98 L-14.85,5.41 L-14.53,3.89 L-14.19,2.50 L-13.98,1.22 L-13.91,0.00 L-13.89,-1.22 L-13.82,-2.44 L-13.62,-3.65 L-13.27,-4.83 L-12.86,-5.99 L-12.44,-7.18 L-12.05,-8.44 L-11.64,-9.77 L-11.09,-11.09 L-10.30,-12.27 L-9.22,-13.17 L-7.91,-13.69 L-6.47,-13.88 L-5.05,-13.87 L-3.72,-13.89 L-2.49,-14.10 L-1.27,-14.54 L-0.00,-15.13 L1.37,-15.65 L2.80,-15.88 L4.20,-15.68 L5.48,-15.05 L6.58,-14.10 L7.52,-13.02 L8.36,-11.94 L9.18,-10.94 L10.00,-10.00 L10.78,-9.05 L11.48,-8.04 L12.05,-6.96 L12.54,-5.85 L13.02,-4.74 L13.62,-3.65 L14.38,-2.54 L15.27,-1.34Z" fill="#9894cc" stroke="#9894cc" stroke-width="0.8" stroke-linejoin="round"/>
<ellipse cx="0.7" cy="0.8" rx="8.3" ry="7" fill="#6b67a8" transform="rotate(-22 0.7 0.8)"/>
</g>
<text x="19.5" y="502.6" font-size="12.3" fill="#7c80c4" stroke="#7c80c4" stroke-width="0.4" textLength="70.5" lengthAdjust="spacingAndGlyphs" >Dendritic cell</text>
<rect x="404" y="146" width="351.79999999999995" height="359.4" fill="#fddada"/>
<rect x="-10.7" y="-3.6" width="21.4" height="7.2" rx="3.6" fill="#c0484e" opacity="1" transform="translate(510.15 134.9) rotate(53.6)" />
<path d="M426,141.3 C428.33,141.23 432.67,141.02 440,140.9 C447.33,140.78 460.67,140.70 470,140.6 C479.33,140.50 486.00,140.52 496,140.3 C506.00,140.08 519.33,139.63 530,139.3 C540.67,138.97 549.67,138.62 560,138.3 C570.33,137.98 582.33,137.57 592,137.4 C601.67,137.23 609.50,137.03 618,137.3 C626.50,137.57 636.00,138.52 643,139 C650.00,139.48 654.50,139.87 660,140.2 C665.50,140.53 669.67,140.98 676,141 C682.33,141.02 691.50,140.63 698,140.3 C704.50,139.97 709.67,139.45 715,139 C720.33,138.55 725.00,138.03 730,137.6 C735.00,137.17 741.08,136.68 745,136.4 C748.92,136.12 751.72,135.72 753.5,135.9 C755.28,136.08 755.33,137.23 755.7,137.5 L755.8,148.5 L426,148.5 Z" fill="#d9e27e"/>
<path d="M426,141.3 C428.33,141.23 432.67,141.02 440,140.9 C447.33,140.78 460.67,140.70 470,140.6 C479.33,140.50 486.00,140.52 496,140.3 C506.00,140.08 519.33,139.63 530,139.3 C540.67,138.97 549.67,138.62 560,138.3 C570.33,137.98 582.33,137.57 592,137.4 C601.67,137.23 609.50,137.03 618,137.3 C626.50,137.57 636.00,138.52 643,139 C650.00,139.48 654.50,139.87 660,140.2 C665.50,140.53 669.67,140.98 676,141 C682.33,141.02 691.50,140.63 698,140.3 C704.50,139.97 709.67,139.45 715,139 C720.33,138.55 725.00,138.03 730,137.6 C735.00,137.17 741.08,136.68 745,136.4 C748.92,136.12 751.72,135.72 753.5,135.9 C755.28,136.08 755.33,137.23 755.7,137.5" fill="none" stroke="#bddb8c" stroke-width="0.9"/>
<rect x="-11.05" y="-3.6" width="22.1" height="7.2" rx="3.6" fill="#a5222e" opacity="1" transform="translate(635.1 138.5) rotate(132.8)" />
<rect x="-11.1" y="-3.6" width="22.2" height="7.2" rx="3.6" fill="#a5222e" opacity="1" transform="translate(539.9 183.5) rotate(59.0)" />
<rect x="-10.4" y="-3.6" width="20.8" height="7.2" rx="3.6" fill="#a5222e" opacity="1" transform="translate(631.8 177.5) rotate(66.1)" />
<path d="M403.2,145.9 L424.5,145.9 L423.8,174.5 Q423.0,177.5 420.5,177.5 L407.2,177.5 Q404.7,177.5 404.4,174.5 Z" fill="#cdb5ae"/>
<circle cx="414.9" cy="167.4" r="5" fill="#b78f89"/>
<path d="M404.2,146.9v-2M407.8,146.9v-4M410.4,146.9v-3M414.0,146.9v-6M417.6,146.9v-5M420.2,146.9v-3M422.8,146.9v-6" stroke="#cdb5ae" stroke-width="1.9" stroke-linecap="round" fill="none"/>
<path d="M427.4,146.6 L450,147.0 L449.9,174.5 Q448.5,177.5 446,177.5 L431.4,177.5 Q428.9,177.5 428.9,174.5 Z" fill="#cdb5ae"/>
<circle cx="439.6" cy="167.8" r="5" fill="#b78f89"/>
<path d="M428.4,147.6v-2M431.4,147.6v-5M435.0,147.6v-7.5M438.6,147.6v-5M442.2,147.6v-3M445.2,147.6v-2M447.4,147.6v-3" stroke="#cdb5ae" stroke-width="1.9" stroke-linecap="round" fill="none"/>
<path d="M451.6,145.8 L473,146.8 L472.1,174.5 Q471.5,177.5 469,177.5 L455.6,177.5 Q453.1,177.5 452.9,174.5 Z" fill="#cdb5ae"/>
<circle cx="462.0" cy="168.2" r="5" fill="#b78f89"/>
<path d="M452.6,146.8v-5M455.6,146.8v-6M459.2,146.8v-6M461.8,146.8v-4M464.0,146.8v-4M466.6,146.8v-7.5M469.6,146.8v-6M471.8,146.8v-7.5" stroke="#cdb5ae" stroke-width="1.9" stroke-linecap="round" fill="none"/>
<path d="M479,146.4 L503,147.4 L502.5,174.5 Q501.5,177.5 499,177.5 L483,177.5 Q480.5,177.5 479.2,174.5 Z" fill="#cdb5ae"/>
<circle cx="491.4" cy="168.4" r="5" fill="#b78f89"/>
<path d="M480.0,147.4v-5M482.2,147.4v-4M484.4,147.4v-5M487.0,147.4v-2M490.0,147.4v-5M493.6,147.4v-2M495.8,147.4v-6M498.0,147.4v-5M501.0,147.4v-6" stroke="#cdb5ae" stroke-width="1.9" stroke-linecap="round" fill="none"/>
<path d="M506,146.3 L528,147.3 L527.4,174.5 Q526.5,177.5 524,177.5 L510,177.5 Q507.5,177.5 506.2,174.5 Z" fill="#cdb5ae"/>
<circle cx="517.9" cy="167.4" r="5" fill="#b78f89"/>
<path d="M507.0,147.3v-3M510.6,147.3v-4M513.6,147.3v-3M515.8,147.3v-4M518.8,147.3v-4M521.4,147.3v-5M525.0,147.3v-5" stroke="#cdb5ae" stroke-width="1.9" stroke-linecap="round" fill="none"/>
<path d="M534,146.5 L556,146.7 L554.9,174.5 Q554.5,177.5 552,177.5 L538,177.5 Q535.5,177.5 535.2,174.5 Z" fill="#cdb5ae"/>
<circle cx="547.3" cy="168.2" r="5" fill="#b78f89"/>
<path d="M535.0,147.5v-5M537.6,147.5v-4M541.2,147.5v-4M544.2,147.5v-6M547.2,147.5v-2M550.8,147.5v-6M553.8,147.5v-2" stroke="#cdb5ae" stroke-width="1.9" stroke-linecap="round" fill="none"/>
<path d="M559,146.4 L580.8,146.7 L580.7,174.5 Q579.3,177.5 576.8,177.5 L563,177.5 Q560.5,177.5 560.3,174.5 Z" fill="#cdb5ae"/>
<circle cx="570.3" cy="168.5" r="5" fill="#b78f89"/>
<path d="M560.0,147.4v-4M563.0,147.4v-7.5M566.6,147.4v-2M568.8,147.4v-7.5M571.0,147.4v-4M574.0,147.4v-7.5M577.6,147.4v-4" stroke="#cdb5ae" stroke-width="1.9" stroke-linecap="round" fill="none"/>
<path d="M582.5,145.8 L605.8,145.1 L604.3,174.5 Q604.3,177.5 601.8,177.5 L586.5,177.5 Q584.0,177.5 584.2,174.5 Z" fill="#cdb5ae"/>
<circle cx="593.7" cy="168.6" r="5" fill="#b78f89"/>
<path d="M583.5,146.8v-2M585.7,146.8v-6M588.3,146.8v-4M590.9,146.8v-7.5M593.9,146.8v-3M596.9,146.8v-3M600.5,146.8v-7.5M602.7,146.8v-2" stroke="#cdb5ae" stroke-width="1.9" stroke-linecap="round" fill="none"/>
<path d="M612,146.9 L634.5,147.3 L634.1,174.5 Q633.0,177.5 630.5,177.5 L616,177.5 Q613.5,177.5 613.6,174.5 Z" fill="#cdb5ae"/>
<circle cx="625.6" cy="167.4" r="5" fill="#b78f89"/>
<path d="M613.0,147.9v-7.5M615.6,147.9v-6M619.2,147.9v-4M621.8,147.9v-2M624.0,147.9v-6M626.6,147.9v-4M629.2,147.9v-4M632.2,147.9v-7.5" stroke="#cdb5ae" stroke-width="1.9" stroke-linecap="round" fill="none"/>
<path d="M645,146.7 L668,146.4 L667.7,174.5 Q666.5,177.5 664,177.5 L649,177.5 Q646.5,177.5 645.6,174.5 Z" fill="#cdb5ae"/>
<circle cx="658.2" cy="167.8" r="5" fill="#b78f89"/>
<path d="M646.0,147.7v-4M649.6,147.7v-4M653.2,147.7v-6M656.8,147.7v-2M660.4,147.7v-3M663.0,147.7v-2M666.6,147.7v-6" stroke="#cdb5ae" stroke-width="1.9" stroke-linecap="round" fill="none"/>
<path d="M671.5,146.3 L693.8,147.3 L692.4,174.5 Q692.3,177.5 689.8,177.5 L675.5,177.5 Q673.0,177.5 671.6,174.5 Z" fill="#cdb5ae"/>
<circle cx="683.0" cy="168.6" r="5" fill="#b78f89"/>
<path d="M672.5,147.3v-7.5M675.5,147.3v-6M678.5,147.3v-3M680.7,147.3v-6M683.7,147.3v-2M686.3,147.3v-2M688.5,147.3v-7.5M691.1,147.3v-5" stroke="#cdb5ae" stroke-width="1.9" stroke-linecap="round" fill="none"/>
<path d="M707,145.5 L730,146.0 L729.7,174.5 Q728.5,177.5 726,177.5 L711,177.5 Q708.5,177.5 707.6,174.5 Z" fill="#cdb5ae"/>
<circle cx="719.7" cy="168.2" r="5" fill="#b78f89"/>
<path d="M708.0,146.5v-5M710.2,146.5v-6M712.4,146.5v-4M715.0,146.5v-4M718.6,146.5v-2M721.6,146.5v-3M724.2,146.5v-2M726.4,146.5v-3M729.0,146.5v-4" stroke="#cdb5ae" stroke-width="1.9" stroke-linecap="round" fill="none"/>
<path d="M731,146.7 L754.5,145.8 L753.2,174.5 Q753.0,177.5 750.5,177.5 L735,177.5 Q732.5,177.5 732.7,174.5 Z" fill="#cdb5ae"/>
<circle cx="741.4" cy="167.8" r="5" fill="#b78f89"/>
<path d="M732.0,147.7v-4M735.6,147.7v-2M739.2,147.7v-4M741.4,147.7v-2M744.0,147.7v-2M746.2,147.7v-2M748.4,147.7v-5M750.6,147.7v-7.5M752.8,147.7v-6" stroke="#cdb5ae" stroke-width="1.9" stroke-linecap="round" fill="none"/>
<rect x="405" y="147.5" width="99.5" height="15.5" rx="6" fill="#ffffff" opacity="0.55"/>
<text x="412" y="159.4" font-size="12.4" fill="#dba3a3" stroke="#dba3a3" stroke-width="0.4" font-style="italic" textLength="85.5" lengthAdjust="spacingAndGlyphs" >Leaky junctions</text>
<text x="469" y="30.8" font-size="14.0" fill="#e8343c" stroke="#e8343c" stroke-width="0.25" font-weight="bold" textLength="215.5" lengthAdjust="spacingAndGlyphs" >Inflamed Gut Microbial Dysbiosis</text>
<text x="392.5" y="65.4" font-size="12.4" fill="#a6a6a6" stroke="#a6a6a6" stroke-width="0.4" font-style="italic" textLength="88.3" lengthAdjust="spacingAndGlyphs" >Intestinal lumen</text>
<line x1="495.8" y1="60" x2="495.8" y2="71" stroke="#5b3f96" stroke-width="1.3"/>
<polygon points="495.8,57 493.8,61.6 497.8,61.6" fill="#5b3f96"/>
<text x="499" y="68.6" font-size="12.4" fill="#6f52a5" stroke="#6f52a5" stroke-width="0.4" textLength="71" lengthAdjust="spacingAndGlyphs" >Fusobacteria</text>
<line x1="578.3" y1="56" x2="578.3" y2="67.5" stroke="#169fb2" stroke-width="1.3"/>
<polygon points="578.3,53 576.3,57.6 580.3,57.6" fill="#169fb2"/>
<text x="584" y="65.6" font-size="12.4" fill="#1fa7b7" stroke="#1fa7b7" stroke-width="0.4" textLength="80" lengthAdjust="spacingAndGlyphs" >Actinobacteria</text>
<line x1="667" y1="43" x2="667" y2="55" stroke="#1f7fd0" stroke-width="1.3"/>
<polygon points="667,40 665,44.6 669,44.6" fill="#1f7fd0"/>
<text x="675" y="52.6" font-size="12.4" fill="#2c8bd9" stroke="#2c8bd9" stroke-width="0.4" textLength="79.5" lengthAdjust="spacingAndGlyphs" >Streptococcus</text>
<line x1="391.5" y1="80.5" x2="391.5" y2="92" stroke="#c0434c" stroke-width="1.3"/>
<polygon points="391.5,77.5 389.5,82.1 393.5,82.1" fill="#c0434c"/>
<text x="395.8" y="90.1" font-size="12.4" fill="#c0434c" stroke="#c0434c" stroke-width="0.4" textLength="80.7" lengthAdjust="spacingAndGlyphs" >Proteobacteria</text>
<line x1="490" y1="80.5" x2="490" y2="92" stroke="#f0a02c" stroke-width="1.3"/>
<polygon points="490,77.5 488,82.1 492,82.1" fill="#f0a02c"/>
<text x="495.8" y="89.4" font-size="12.4" fill="#f0a226" stroke="#f0a226" stroke-width="0.4" textLength="91.2" lengthAdjust="spacingAndGlyphs" >Verrucomicrobia</text>
<line x1="594.5" y1="79" x2="594.5" y2="91" stroke="#3f7f3a" stroke-width="1.3"/>
<polygon points="594.5,76 592.5,80.6 596.5,80.6" fill="#3f7f3a"/>
<text x="601.5" y="88.6" font-size="12.4" fill="#5c9a55" stroke="#5c9a55" stroke-width="0.4" textLength="106.8" lengthAdjust="spacingAndGlyphs" >Enterobacteriaceae</text>
<line x1="412" y1="108" x2="412" y2="119.5" stroke="#e0672b" stroke-width="1.3"/>
<polygon points="412,122.5 410,117.9 414,117.9" fill="#e0672b"/>
<text x="416.5" y="118.6" font-size="12.0" fill="#e2853f" stroke="#e2853f" stroke-width="0.4" textLength="18.0" lengthAdjust="spacingAndGlyphs" >IgA</text>
<line x1="453.8" y1="127.5" x2="453.8" y2="137.5" stroke="#1f6b45" stroke-width="1.3"/>
<polygon points="453.8,140.5 451.8,135.9 455.8,135.9" fill="#1f6b45"/>
<text x="456.5" y="137.6" font-size="11.6" fill="#3d8a63" stroke="#3d8a63" stroke-width="0.4" textLength="33.5" lengthAdjust="spacingAndGlyphs" >Mucus</text>
<rect x="-10.4" y="-3.65" width="20.8" height="7.3" rx="3.65" fill="#18a4b4" opacity="1" transform="translate(443.5 107.9) rotate(-6)" />
<rect x="-10.4" y="-3.65" width="20.8" height="7.3" rx="3.65" fill="#8f62ad" opacity="1" transform="translate(483.6 102.6) rotate(14)" />
<rect x="-10.4" y="-3.65" width="20.8" height="7.3" rx="3.65" fill="#c0434b" opacity="1" transform="translate(466.5 116.2) rotate(-8)" />
<rect x="-10.4" y="-3.65" width="20.8" height="7.3" rx="3.65" fill="#f6a93b" opacity="1" transform="translate(554.2 105.1) rotate(-4)" />
<rect x="-10.4" y="-3.65" width="20.8" height="7.3" rx="3.65" fill="#8f62ad" opacity="1" transform="translate(517.5 120.7) rotate(12)" />
<rect x="-10.4" y="-3.65" width="20.8" height="7.3" rx="3.65" fill="#18a4b4" opacity="1" transform="translate(541.5 128) rotate(12)" />
<rect x="-10.4" y="-3.65" width="20.8" height="7.3" rx="3.65" fill="#c4585e" opacity="1" transform="translate(601.5 106.4) rotate(-27)" />
<rect x="-10.4" y="-3.65" width="20.8" height="7.3" rx="3.65" fill="#f6a93b" opacity="1" transform="translate(646.7 102.8) rotate(19)" />
<rect x="-10.4" y="-3.65" width="20.8" height="7.3" rx="3.65" fill="#8f62ad" opacity="1" transform="translate(703.4 97.7) rotate(14)" />
<rect x="-10.4" y="-3.65" width="20.8" height="7.3" rx="3.65" fill="#18a4b4" opacity="1" transform="translate(725.9 99.8) rotate(-12)" />
<rect x="-10.4" y="-3.65" width="20.8" height="7.3" rx="3.65" fill="#c2474f" opacity="1" transform="translate(692.2 113.3) rotate(13)" />
<rect x="-10.4" y="-3.65" width="20.8" height="7.3" rx="3.65" fill="#8f62ad" opacity="1" transform="translate(661.3 124) rotate(14)" />
<rect x="-10.4" y="-3.65" width="20.8" height="7.3" rx="3.65" fill="#c2474f" opacity="1" transform="translate(727.1 127.1) rotate(13)" />
<rect x="-10.4" y="-3.65" width="20.8" height="7.3" rx="3.65" fill="#bf434b" opacity="1" transform="translate(575.5 132.2) rotate(12)" />
<rect x="-10.4" y="-3.65" width="20.8" height="7.3" rx="3.65" fill="#9a68b3" opacity="1" transform="translate(677.3 139.3) rotate(13)" />
<g transform="translate(429.6 140.2) scale(1.0)"><rect x="-2.6" y="-9.2" width="2.3" height="9.2" fill="#f39a1e"/><rect x="0.3" y="-9.2" width="2.3" height="9.2" fill="#f39a1e"/><rect x="-2.6" y="-9.4" width="5.2" height="1.8" fill="#fbe3c0" opacity="0.8"/><g transform="translate(-2.6 -8.6) rotate(-37)"><rect x="-2.6" y="-9" width="2.3" height="8.4" fill="#f39a1e"/><rect x="0.3" y="-9" width="2.3" height="8.4" fill="#f39a1e"/></g><g transform="translate(2.6 -8.6) rotate(37)"><rect x="0.3" y="-9" width="2.3" height="8.4" fill="#f39a1e"/><rect x="-2.6" y="-9" width="2.3" height="8.4" fill="#f39a1e"/></g></g>
<g transform="translate(618 139.8) scale(1.0)"><rect x="-2.6" y="-9.2" width="2.3" height="9.2" fill="#f39a1e"/><rect x="0.3" y="-9.2" width="2.3" height="9.2" fill="#f39a1e"/><rect x="-2.6" y="-9.4" width="5.2" height="1.8" fill="#fbe3c0" opacity="0.8"/><g transform="translate(-2.6 -8.6) rotate(-37)"><rect x="-2.6" y="-9" width="2.3" height="8.4" fill="#f39a1e"/><rect x="0.3" y="-9" width="2.3" height="8.4" fill="#f39a1e"/></g><g transform="translate(2.6 -8.6) rotate(37)"><rect x="0.3" y="-9" width="2.3" height="8.4" fill="#f39a1e"/><rect x="-2.6" y="-9" width="2.3" height="8.4" fill="#f39a1e"/></g></g>
<rect x="-10.25" y="-3.5" width="20.5" height="7" rx="3.5" fill="#ab2d3a" opacity="1" transform="translate(599.5 152.55) rotate(86.1)" />
<rect x="-10.15" y="-3.6" width="20.3" height="7.2" rx="3.6" fill="#a5222e" opacity="1" transform="translate(694.7 144.25) rotate(73.4)" />
<rect x="-9.85" y="-3.6" width="19.7" height="7.2" rx="3.6" fill="#a5222e" opacity="1" transform="translate(699.7 174.85) rotate(108.3)" />
<text x="409.8" y="207.0" font-size="11.6" fill="#b93c49" stroke="#b93c49" stroke-width="0.4" textLength="125.2" lengthAdjust="spacingAndGlyphs" >Translocation of bacteria</text>
<path d="M463.09,242.50 L463.05,243.48 L462.76,244.43 L462.24,245.34 L461.50,246.17 L460.51,246.88 L460.68,247.85 L460.78,248.83 L460.68,249.77 L460.37,250.65 L459.87,251.44 L459.19,252.13 L458.35,252.69 L457.37,253.11 L456.39,253.46 L456.41,254.55 L456.22,255.54 L455.87,256.43 L455.36,257.21 L454.71,257.85 L453.93,258.34 L453.04,258.66 L452.06,258.80 L451.29,259.23 L450.90,260.33 L450.34,261.27 L449.65,262.03 L448.84,262.59 L447.94,262.93 L446.97,263.03 L445.96,262.91 L444.94,262.55 L444.06,262.90 L443.20,263.59 L442.27,264.05 L441.30,264.28 L440.32,264.28 L439.36,264.03 L438.45,263.56 L437.60,262.89 L436.86,261.97 L435.86,262.21 L434.83,262.40 L433.84,262.38 L432.90,262.15 L432.04,261.72 L431.29,261.10 L430.66,260.31 L430.17,259.36 L429.76,258.38 L428.64,258.38 L427.63,258.15 L426.73,257.74 L425.98,257.15 L425.39,256.40 L424.99,255.51 L424.78,254.51 L424.77,253.41 L424.50,252.53 L423.58,252.04 L422.83,251.40 L422.26,250.64 L421.89,249.78 L421.73,248.86 L421.78,247.89 L422.03,246.90 L422.50,245.91 L422.21,245.09 L421.54,244.28 L421.06,243.41 L420.77,242.50 L420.68,241.57 L420.79,240.65 L421.11,239.76 L421.61,238.93 L422.33,238.17 L421.89,237.14 L421.51,236.07 L421.35,235.01 L421.41,234.00 L421.69,233.06 L422.19,232.22 L422.89,231.50 L423.78,230.94 L424.73,230.46 L424.72,229.28 L424.97,228.23 L425.42,227.31 L426.06,226.56 L426.87,225.98 L427.83,225.61 L428.90,225.43 L430.06,225.48 L431.00,225.27 L431.56,224.40 L432.25,223.71 L433.05,223.19 L433.93,222.87 L434.88,222.76 L435.87,222.84 L436.88,223.12 L437.87,223.61 L438.70,223.34 L439.52,222.69 L440.39,222.23 L441.30,221.97 L442.22,221.91 L443.14,222.07 L444.02,222.43 L444.84,222.99 L445.57,223.79 L446.56,223.42 L447.59,223.13 L448.60,223.05 L449.55,223.19 L450.43,223.54 L451.20,224.11 L451.84,224.85 L452.35,225.77 L452.77,226.71 L453.91,226.69 L454.93,226.89 L455.85,227.28 L456.63,227.84 L457.26,228.56 L457.72,229.41 L458.00,230.37 L458.09,231.41 L458.46,232.24 L459.51,232.70 L460.39,233.31 L461.10,234.04 L461.61,234.88 L461.90,235.81 L461.98,236.79 L461.83,237.81 L461.44,238.85 L461.77,239.73 L462.44,240.60 L462.88,241.53Z" fill="#f9c6ca" stroke="#f4a9b2" stroke-width="1" stroke-linejoin="round"/>
<circle cx="445.3" cy="257.1" r="0.8" fill="#fcdcde"/>
<circle cx="428.4" cy="234.6" r="0.8" fill="#fcdcde"/>
<circle cx="456.1" cy="239.4" r="0.8" fill="#fcdcde"/>
<circle cx="432.6" cy="254.8" r="0.8" fill="#fcdcde"/>
<circle cx="439.3" cy="227.5" r="0.8" fill="#fcdcde"/>
<circle cx="453.0" cy="252.0" r="0.8" fill="#fcdcde"/>
<circle cx="426.2" cy="243.5" r="0.8" fill="#fcdcde"/>
<circle cx="444.5" cy="245" r="9" fill="#ec9aa6"/>
<path d="M507.23,234.50 L506.78,235.41 L506.12,236.27 L505.36,237.06 L505.86,238.01 L506.09,238.97 L506.13,239.92 L505.97,240.83 L505.61,241.67 L505.07,242.44 L504.36,243.10 L503.50,243.65 L502.95,244.33 L503.10,245.46 L503.04,246.52 L502.80,247.50 L502.37,248.37 L501.78,249.11 L501.03,249.69 L500.14,250.11 L499.13,250.34 L498.57,251.11 L498.19,252.21 L497.64,253.14 L496.94,253.89 L496.10,254.43 L495.15,254.74 L494.12,254.81 L493.05,254.65 L491.94,254.20 L491.14,254.84 L490.30,255.45 L489.39,255.85 L488.44,256.02 L487.46,255.95 L486.50,255.66 L485.57,255.16 L484.70,254.45 L483.91,253.65 L482.94,254.11 L481.98,254.32 L481.03,254.34 L480.11,254.16 L479.26,253.78 L478.50,253.22 L477.84,252.49 L477.30,251.60 L476.64,251.00 L475.54,251.10 L474.52,250.99 L473.59,250.68 L472.79,250.20 L472.13,249.53 L471.63,248.72 L471.31,247.77 L471.19,246.71 L470.52,246.11 L469.52,245.71 L468.67,245.15 L468.00,244.46 L467.52,243.64 L467.23,242.73 L467.16,241.76 L467.29,240.74 L467.67,239.70 L466.92,238.97 L466.18,238.19 L465.62,237.33 L465.27,236.41 L465.13,235.46 L465.21,234.50 L465.51,233.56 L466.01,232.66 L466.62,231.81 L465.99,230.78 L465.65,229.74 L465.53,228.71 L465.64,227.72 L465.99,226.80 L466.56,225.98 L467.34,225.27 L468.32,224.72 L469.02,224.06 L469.06,222.99 L469.32,222.02 L469.78,221.17 L470.43,220.46 L471.24,219.91 L472.20,219.54 L473.27,219.36 L474.44,219.37 L475.12,218.84 L475.58,217.96 L476.18,217.22 L476.89,216.64 L477.70,216.22 L478.59,215.98 L479.53,215.93 L480.51,216.06 L481.51,216.42 L482.19,215.64 L482.93,214.84 L483.75,214.23 L484.64,213.82 L485.56,213.62 L486.50,213.64 L487.43,213.88 L488.32,214.33 L489.15,214.90 L490.18,214.25 L491.21,213.87 L492.23,213.73 L493.22,213.83 L494.13,214.16 L494.96,214.71 L495.67,215.47 L496.23,216.41 L496.91,217.07 L498.01,217.06 L499.02,217.27 L499.92,217.67 L500.70,218.25 L501.32,219.00 L501.78,219.89 L502.06,220.90 L502.15,222.02 L502.79,222.66 L503.77,223.10 L504.60,223.69 L505.26,224.41 L505.73,225.24 L505.99,226.17 L506.04,227.17 L505.87,228.20 L505.45,229.27 L506.13,230.02 L506.79,230.82 L507.24,231.69 L507.47,232.61 L507.47,233.56Z" fill="#f9c6ca" stroke="#f4a9b2" stroke-width="1" stroke-linejoin="round"/>
<circle cx="478.9" cy="247.6" r="0.8" fill="#fcdcde"/>
<circle cx="483.2" cy="219.8" r="0.8" fill="#fcdcde"/>
<circle cx="499.0" cy="243.0" r="0.8" fill="#fcdcde"/>
<circle cx="471.6" cy="236.8" r="0.8" fill="#fcdcde"/>
<circle cx="495.8" cy="222.6" r="0.8" fill="#fcdcde"/>
<circle cx="487.8" cy="249.6" r="0.8" fill="#fcdcde"/>
<circle cx="475.3" cy="224.4" r="0.8" fill="#fcdcde"/>
<circle cx="489.5" cy="230" r="9" fill="#ec9aa6"/>
<path d="M481.76,279.50 L482.43,280.40 L482.89,281.33 L483.12,282.29 L483.11,283.24 L482.87,284.15 L482.41,284.99 L481.73,285.75 L480.82,286.38 L480.86,287.35 L480.90,288.36 L480.72,289.31 L480.34,290.16 L479.77,290.90 L479.02,291.50 L478.11,291.95 L477.08,292.23 L475.95,292.36 L475.76,293.37 L475.37,294.23 L474.83,294.96 L474.16,295.56 L473.38,295.99 L472.51,296.25 L471.56,296.33 L470.56,296.23 L469.69,296.33 L469.15,297.22 L468.49,297.93 L467.73,298.46 L466.91,298.81 L466.03,298.94 L465.12,298.87 L464.22,298.59 L463.33,298.09 L462.50,298.21 L461.63,298.76 L460.74,299.10 L459.83,299.24 L458.93,299.16 L458.08,298.87 L457.29,298.38 L456.58,297.71 L455.99,296.84 L455.05,296.94 L454.03,297.08 L453.07,297.03 L452.17,296.79 L451.37,296.37 L450.67,295.78 L450.11,295.04 L449.69,294.16 L449.42,293.18 L448.26,293.11 L447.25,292.83 L446.36,292.37 L445.63,291.75 L445.08,291.00 L444.73,290.12 L444.58,289.14 L444.65,288.09 L444.55,287.17 L443.70,286.55 L443.06,285.81 L442.63,284.98 L442.42,284.08 L442.43,283.14 L442.66,282.19 L443.11,281.24 L443.78,280.34 L443.83,279.50 L443.42,278.64 L443.22,277.76 L443.20,276.89 L443.37,276.03 L443.72,275.21 L444.25,274.46 L444.94,273.79 L445.81,273.23 L445.69,272.31 L445.51,271.32 L445.52,270.36 L445.71,269.47 L446.08,268.66 L446.62,267.96 L447.32,267.39 L448.15,266.96 L449.10,266.69 L449.13,265.52 L449.39,264.50 L449.83,263.61 L450.43,262.89 L451.17,262.34 L452.04,261.99 L452.99,261.83 L454.02,261.89 L454.92,261.77 L455.52,260.89 L456.23,260.21 L457.04,259.71 L457.92,259.42 L458.84,259.34 L459.79,259.47 L460.73,259.81 L461.64,260.35 L462.50,260.27 L463.39,259.75 L464.31,259.44 L465.23,259.32 L466.15,259.41 L467.02,259.72 L467.82,260.22 L468.54,260.92 L469.13,261.82 L470.08,261.77 L471.07,261.70 L472.01,261.83 L472.86,262.16 L473.60,262.68 L474.21,263.38 L474.67,264.24 L474.96,265.23 L475.10,266.32 L476.11,266.48 L476.98,266.85 L477.71,267.37 L478.30,268.02 L478.73,268.78 L478.99,269.65 L479.08,270.58 L478.99,271.56 L479.11,272.40 L480.03,272.92 L480.79,273.56 L481.38,274.29 L481.80,275.09 L482.03,275.96 L482.06,276.85 L481.89,277.75 L481.52,278.65Z" fill="#f9c6ca" stroke="#f4a9b2" stroke-width="1" stroke-linejoin="round"/>
<circle cx="476.6" cy="282.4" r="0.8" fill="#fcdcde"/>
<circle cx="450.2" cy="287.0" r="0.8" fill="#fcdcde"/>
<circle cx="466.3" cy="265.6" r="0.8" fill="#fcdcde"/>
<circle cx="469.2" cy="292.2" r="0.8" fill="#fcdcde"/>
<circle cx="448.9" cy="274.8" r="0.8" fill="#fcdcde"/>
<circle cx="475.7" cy="273.7" r="0.8" fill="#fcdcde"/>
<circle cx="456.9" cy="292.7" r="0.8" fill="#fcdcde"/>
<circle cx="465" cy="281" r="8.5" fill="#ec9aa6"/>
<circle cx="435.8" cy="232.6" r="4.6" fill="#fdeeee" stroke="#f4b0b6" stroke-width="0.8"/>
<rect x="-9.65" y="-3.3" width="19.3" height="6.6" rx="3.3" fill="#b8303c" opacity="1" transform="translate(430.2 223.25) rotate(58.8)" />
<ellipse cx="474.8" cy="238.8" rx="3.9" ry="6.2" fill="#fdf2f2" stroke="#f4b0b6" stroke-width="0.8" transform="rotate(-28 474.8 238.8)"/>
<rect x="-4.8" y="-1.6" width="9.6" height="3.2" rx="1.6" fill="#b8303c" opacity="1" transform="translate(474.9 238.8) rotate(61.3)" />
<text x="428" y="315.6" font-size="12.3" fill="#cc9c90" stroke="#cc9c90" stroke-width="0.4" textLength="69" lengthAdjust="spacingAndGlyphs" >Macrophage</text>
<defs><linearGradient id="g7" gradientUnits="userSpaceOnUse" x1="543" y1="329" x2="585" y2="273"><stop offset="0" stop-color="#1a1a1a" stop-opacity="0"/><stop offset="0.35" stop-color="#1a1a1a" stop-opacity="1"/><stop offset="1" stop-color="#1a1a1a" stop-opacity="1"/></linearGradient></defs>
<line x1="544.50" y1="327.00" x2="581.21" y2="278.23" stroke="url(#g7)" stroke-width="1.7"/>
<polygon points="585.30,272.80 583.49,281.20 577.73,276.87" fill="#1a1a1a"/>
<defs><linearGradient id="g8" gradientUnits="userSpaceOnUse" x1="538" y1="346.3" x2="594.5" y2="346.3"><stop offset="0" stop-color="#1a1a1a" stop-opacity="0"/><stop offset="0.35" stop-color="#1a1a1a" stop-opacity="1"/><stop offset="1" stop-color="#1a1a1a" stop-opacity="1"/></linearGradient></defs>
<line x1="543.00" y1="346.30" x2="587.90" y2="346.30" stroke="url(#g8)" stroke-width="1.7"/>
<polygon points="594.70,346.30 586.90,349.90 586.90,342.70" fill="#1a1a1a"/>
<defs><linearGradient id="g9" gradientUnits="userSpaceOnUse" x1="541" y1="362" x2="584" y2="417"><stop offset="0" stop-color="#1a1a1a" stop-opacity="0"/><stop offset="0.35" stop-color="#1a1a1a" stop-opacity="1"/><stop offset="1" stop-color="#1a1a1a" stop-opacity="1"/></linearGradient></defs>
<line x1="543.00" y1="364.50" x2="579.89" y2="413.08" stroke="url(#g9)" stroke-width="1.7"/>
<polygon points="584.00,418.50 576.42,414.46 582.15,410.11" fill="#1a1a1a"/>
<line x1="617.20" y1="279.00" x2="625.00" y2="341.30" stroke="#1a1a1a" stroke-width="1.7"/>
<line x1="620.63" y1="341.85" x2="629.37" y2="340.75" stroke="#1a1a1a" stroke-width="1.7"/>
<line x1="613.30" y1="422.00" x2="622.00" y2="384.50" stroke="#1a1a1a" stroke-width="1.7"/>
<line x1="626.29" y1="385.49" x2="617.71" y2="383.51" stroke="#1a1a1a" stroke-width="1.7"/>
<defs><linearGradient id="g10" gradientUnits="userSpaceOnUse" x1="437" y1="425" x2="437" y2="340"><stop offset="0" stop-color="#1a1a1a" stop-opacity="0"/><stop offset="0.45" stop-color="#1a1a1a" stop-opacity="1"/><stop offset="1" stop-color="#1a1a1a" stop-opacity="1"/></linearGradient></defs>
<path d="M437,426 C437.20,422.50 437.62,411.33 438.2,405 C438.78,398.67 439.77,392.50 440.5,388 C441.23,383.50 441.20,382.20 442.6,378 C444.00,373.80 446.80,366.80 448.9,362.8 C451.00,358.80 452.07,356.98 455.2,354 C458.33,351.02 463.52,346.92 467.7,344.9 C471.88,342.88 476.78,342.48 480.3,341.9 C483.82,341.32 487.38,341.48 488.8,341.4" fill="none" stroke="url(#g10)" stroke-width="1.9"/>
<polygon points="496.2,341.4 488.3,337.5 488.3,345.3" fill="#1a1a1a"/>
<circle cx="628.6" cy="222.4" r="17.4" fill="#fdd3ab" stroke="#f6ba8a" stroke-width="1"/>
<circle cx="630.4" cy="221.7" r="11.1" fill="#fdb99b"/>
<line x1="607.73" y1="210.09" x2="614.03" y2="213.69" stroke="#f7c096" stroke-width="1.1"/>
<line x1="598.33" y1="204.99" x2="607.73" y2="210.09" stroke="#f8bd8c" stroke-width="2.5"/>
<line x1="606.27" y1="212.71" x2="612.57" y2="216.31" stroke="#f7c096" stroke-width="1.1"/>
<line x1="596.87" y1="207.61" x2="606.27" y2="212.71" stroke="#f8bd8c" stroke-width="2.5"/>
<circle cx="608.7" cy="260.4" r="17.7" fill="#fdbd7e" stroke="#f3a35c" stroke-width="1"/>
<circle cx="610.6" cy="260.6" r="11.6" fill="#ff9f54"/>
<line x1="598.94" y1="238.33" x2="602.14" y2="244.03" stroke="#f5a55c" stroke-width="1.1"/>
<line x1="594.54" y1="228.93" x2="598.94" y2="238.33" stroke="#f6a04c" stroke-width="2.5"/>
<line x1="596.26" y1="239.67" x2="599.46" y2="245.37" stroke="#f5a55c" stroke-width="1.1"/>
<line x1="591.86" y1="230.27" x2="596.26" y2="239.67" stroke="#f6a04c" stroke-width="2.5"/>
<circle cx="654.5" cy="204.3" r="3.25" fill="#fbb99a" stroke="#f9a888" stroke-width="0.8"/>
<circle cx="672" cy="201.3" r="3.25" fill="#f9a070" stroke="#f8905c" stroke-width="0.8"/>
<circle cx="665" cy="213.8" r="3.25" fill="#f4813f" stroke="#f89a66" stroke-width="0.8"/>
<circle cx="680.8" cy="212.5" r="3.25" fill="#fbb99a" stroke="#f9a888" stroke-width="0.8"/>
<circle cx="659.5" cy="225" r="3.25" fill="#f9a070" stroke="#f8905c" stroke-width="0.8"/>
<circle cx="673.3" cy="225" r="3.25" fill="#f4813f" stroke="#f89a66" stroke-width="0.8"/>
<circle cx="685.8" cy="233" r="3.25" fill="#fbb99a" stroke="#f9a888" stroke-width="0.8"/>
<circle cx="658.3" cy="242" r="3.25" fill="#fbb99a" stroke="#f9a888" stroke-width="0.8"/>
<circle cx="672" cy="240.5" r="3.25" fill="#f4813f" stroke="#f89a66" stroke-width="0.8"/>
<circle cx="665" cy="252.5" r="3.25" fill="#f4813f" stroke="#f89a66" stroke-width="0.8"/>
<circle cx="680.8" cy="252" r="3.25" fill="#fbb99a" stroke="#f9a888" stroke-width="0.8"/>
<circle cx="655.8" cy="263" r="3.25" fill="#fbb99a" stroke="#f9a888" stroke-width="0.8"/>
<circle cx="673.3" cy="263.8" r="3.25" fill="#f9a070" stroke="#f8905c" stroke-width="0.8"/>
<defs><linearGradient id="g11" gradientUnits="userSpaceOnUse" x1="706" y1="253.5" x2="666" y2="230"><stop offset="0" stop-color="#1a1a1a" stop-opacity="0.25"/><stop offset="0.4" stop-color="#1a1a1a" stop-opacity="1"/><stop offset="1" stop-color="#1a1a1a" stop-opacity="1"/></linearGradient></defs>
<line x1="704.00" y1="252.60" x2="671.65" y2="233.46" stroke="url(#g11)" stroke-width="1.7"/>
<polygon points="665.80,230.00 674.35,230.87 670.68,237.07" fill="#1a1a1a"/>
<rect x="-9.95" y="-3.5" width="19.9" height="7" rx="3.5" fill="#a5222e" opacity="1" transform="translate(711.2 255.9) rotate(107.5)" />
<text x="665.8" y="281.4" font-size="11.8" fill="#ff9a3d" stroke="#ff9a3d" stroke-width="0.4" textLength="71.2" lengthAdjust="spacingAndGlyphs" >Stimulation of</text>
<text x="665.8" y="294.8" font-size="11.8" fill="#ff9a3d" stroke="#ff9a3d" stroke-width="0.4" textLength="83.7" lengthAdjust="spacingAndGlyphs" >proinflammatory</text>
<text x="665.8" y="307.4" font-size="11.8" fill="#ff9a3d" stroke="#ff9a3d" stroke-width="0.4" textLength="41.7" lengthAdjust="spacingAndGlyphs" >immune</text>
<text x="665.8" y="320.2" font-size="11.8" fill="#ff9a3d" stroke="#ff9a3d" stroke-width="0.4" textLength="47.2" lengthAdjust="spacingAndGlyphs" >response</text>
<circle cx="515.8" cy="345.5" r="17.8" fill="#b9deeb" stroke="#8fc3d9" stroke-width="1"/>
<circle cx="517.5" cy="347" r="11.3" fill="#90c4dc"/>
<text x="495.5" y="383.1" font-size="12.3" fill="#3b78bf" stroke="#3b78bf" stroke-width="0.4" textLength="31.3" lengthAdjust="spacingAndGlyphs" >Naive</text>
<text x="498.8" y="396.8" font-size="12.3" fill="#3b78bf" stroke="#3b78bf" stroke-width="0.4" textLength="28.2" lengthAdjust="spacingAndGlyphs" >T cell</text>
<circle cx="624.8" cy="362.7" r="17.5" fill="#d95884" stroke="#94405f" stroke-width="1"/>
<circle cx="627.1" cy="364" r="11" fill="#bf386d"/>
<line x1="615.26" y1="340.77" x2="619.06" y2="348.87" stroke="#e0507c" stroke-width="1.1"/>
<line x1="610.86" y1="331.27" x2="615.26" y2="340.77" stroke="#f05a85" stroke-width="2.5"/>
<line x1="612.54" y1="342.03" x2="616.34" y2="350.13" stroke="#e0507c" stroke-width="1.1"/>
<line x1="608.14" y1="332.53" x2="612.54" y2="342.03" stroke="#f05a85" stroke-width="2.5"/>
<circle cx="647" cy="348.3" r="3.25" fill="#f7a0b4" stroke="#f9b2c2" stroke-width="0.8"/>
<circle cx="659.5" cy="356.3" r="3.25" fill="#ea4f7a" stroke="#f27b9b" stroke-width="0.8"/>
<circle cx="648.8" cy="370" r="3.25" fill="#f7a0b4" stroke="#f9b2c2" stroke-width="0.8"/>
<circle cx="608.9" cy="440.7" r="17.4" fill="#c1b5ef" stroke="#a99ce1" stroke-width="1"/>
<circle cx="607" cy="439.7" r="10.9" fill="#aa9be0"/>
<line x1="609.71" y1="464.06" x2="608.71" y2="455.16" stroke="#7f589c" stroke-width="1.1"/>
<line x1="610.91" y1="475.36" x2="609.71" y2="464.06" stroke="#a06ab5" stroke-width="2.5"/>
<line x1="612.69" y1="463.74" x2="611.69" y2="454.84" stroke="#7f589c" stroke-width="1.1"/>
<line x1="613.89" y1="475.04" x2="612.69" y2="463.74" stroke="#a06ab5" stroke-width="2.5"/>
<circle cx="639.1" cy="474.4" r="17.6" fill="#cdc4f2" stroke="#b0a4e6" stroke-width="1"/>
<circle cx="636.9" cy="473.3" r="10.9" fill="#bbb0e8"/>
<line x1="652.37" y1="494.85" x2="646.67" y2="486.75" stroke="#7f589c" stroke-width="1.1"/>
<line x1="657.97" y1="503.05" x2="652.37" y2="494.85" stroke="#a06ab5" stroke-width="2.5"/>
<line x1="654.83" y1="493.15" x2="649.13" y2="485.05" stroke="#7f589c" stroke-width="1.1"/>
<line x1="660.43" y1="501.35" x2="654.83" y2="493.15" stroke="#a06ab5" stroke-width="2.5"/>
<circle cx="638.3" cy="413.8" r="3.25" fill="#c9bcec" stroke="#d3c8f0" stroke-width="0.8"/>
<circle cx="652" cy="417.5" r="3.25" fill="#c9bcec" stroke="#d3c8f0" stroke-width="0.8"/>
<circle cx="667.8" cy="422.5" r="3.25" fill="#b19fe0" stroke="#c0b0e8" stroke-width="0.8"/>
<circle cx="626.3" cy="426.3" r="3.25" fill="#c9bcec" stroke="#d3c8f0" stroke-width="0.8"/>
<circle cx="640" cy="427.5" r="3.25" fill="#8d76cf" stroke="#a893dc" stroke-width="0.8"/>
<circle cx="653.3" cy="431.8" r="3.25" fill="#8d76cf" stroke="#a893dc" stroke-width="0.8"/>
<circle cx="642.8" cy="440.5" r="3.25" fill="#b19fe0" stroke="#c0b0e8" stroke-width="0.8"/>
<circle cx="670.8" cy="441.3" r="3.25" fill="#8d76cf" stroke="#a893dc" stroke-width="0.8"/>
<circle cx="683.8" cy="447.5" r="3.25" fill="#c9bcec" stroke="#d3c8f0" stroke-width="0.8"/>
<circle cx="659" cy="448.8" r="3.25" fill="#b19fe0" stroke="#c0b0e8" stroke-width="0.8"/>
<circle cx="670.3" cy="455.8" r="3.25" fill="#8d76cf" stroke="#a893dc" stroke-width="0.8"/>
<circle cx="682.8" cy="461.3" r="3.25" fill="#b19fe0" stroke="#c0b0e8" stroke-width="0.8"/>
<circle cx="667" cy="469.3" r="3.25" fill="#c9bcec" stroke="#d3c8f0" stroke-width="0.8"/>
<defs><linearGradient id="g12" gradientUnits="userSpaceOnUse" x1="709" y1="432.8" x2="649" y2="438.8"><stop offset="0" stop-color="#1a1a1a" stop-opacity="0.2"/><stop offset="0.4" stop-color="#1a1a1a" stop-opacity="1"/><stop offset="1" stop-color="#1a1a1a" stop-opacity="1"/></linearGradient></defs>
<line x1="707.00" y1="433.00" x2="655.77" y2="438.12" stroke="url(#g12)" stroke-width="1.7"/>
<polygon points="649.00,438.80 656.40,434.44 657.12,441.61" fill="#1a1a1a"/>
<rect x="-10.15" y="-3.5" width="20.3" height="7" rx="3.5" fill="#a5222e" opacity="1" transform="translate(712.95 430.3) rotate(62.7)" />
<text x="665.8" y="487.6" font-size="11.8" fill="#b4a9ec" stroke="#b4a9ec" stroke-width="0.4" textLength="70.7" lengthAdjust="spacingAndGlyphs" >Stimulation of</text>
<text x="665.8" y="500.1" font-size="11.8" fill="#b4a9ec" stroke="#b4a9ec" stroke-width="0.4" textLength="83.7" lengthAdjust="spacingAndGlyphs" >proinflammatory</text>
<g transform="translate(444.7 452.7) scale(1.0)">
<path d="M2.5,-10 Q3.3,-23 6.9,-29.2" fill="none" stroke="#9894cc" stroke-width="2.8" stroke-linecap="round"/>
<path d="M6,-9 Q15.5,-13.8 17.9,-19.8" fill="none" stroke="#9894cc" stroke-width="2.7" stroke-linecap="round"/>
<path d="M9,-7 Q13,-9.6 15.9,-11.4" fill="none" stroke="#9894cc" stroke-width="2.4" stroke-linecap="round"/>
<path d="M10,0 Q19,3.8 25.8,2.5" fill="none" stroke="#9894cc" stroke-width="2.7" stroke-linecap="round"/>
<path d="M8,5 Q12,8.5 15.3,10.5" fill="none" stroke="#9894cc" stroke-width="2.4" stroke-linecap="round"/>
<path d="M1.5,10 Q6.4,18 7.6,24.5" fill="none" stroke="#9894cc" stroke-width="2.8" stroke-linecap="round"/>
<path d="M-7,8 Q-13.5,16.5 -18.4,20.3" fill="none" stroke="#9894cc" stroke-width="2.8" stroke-linecap="round"/>
<path d="M-10,4 Q-19.5,5.5 -25.3,9.6" fill="none" stroke="#9894cc" stroke-width="2.8" stroke-linecap="round"/>
<path d="M-9,-5 Q-19,-7.3 -25.3,-10.8" fill="none" stroke="#9894cc" stroke-width="2.8" stroke-linecap="round"/>
<path d="M-7,-9 Q-13,-14 -17.2,-16.5" fill="none" stroke="#9894cc" stroke-width="2.6" stroke-linecap="round"/>
<path d="M-4,12 Q-5,15 -5.5,16.6" fill="none" stroke="#9894cc" stroke-width="2.4" stroke-linecap="round"/>
<path d="M-12,1 Q-15,1.5 -16.3,2" fill="none" stroke="#9894cc" stroke-width="2.4" stroke-linecap="round"/>
<path d="M16.09,0.00 L16.63,1.46 L16.69,2.94 L16.20,4.34 L15.24,5.55 L14.02,6.54 L12.79,7.38 L11.72,8.20 L10.85,9.10 L10.12,10.12 L9.40,11.20 L8.55,12.21 L7.53,13.04 L6.35,13.62 L5.09,13.99 L3.82,14.25 L2.55,14.48 L1.29,14.70 L0.00,14.87 L-1.30,14.88 L-2.58,14.63 L-3.79,14.13 L-4.90,13.46 L-5.96,12.77 L-7.05,12.21 L-8.28,11.83 L-9.69,11.55 L-11.22,11.22 L-12.69,10.65 L-13.90,9.73 L-14.68,8.47 L-14.96,6.98 L-14.85,5.41 L-14.53,3.89 L-14.19,2.50 L-13.98,1.22 L-13.91,0.00 L-13.89,-1.22 L-13.82,-2.44 L-13.62,-3.65 L-13.27,-4.83 L-12.86,-5.99 L-12.44,-7.18 L-12.05,-8.44 L-11.64,-9.77 L-11.09,-11.09 L-10.30,-12.27 L-9.22,-13.17 L-7.91,-13.69 L-6.47,-13.88 L-5.05,-13.87 L-3.72,-13.89 L-2.49,-14.10 L-1.27,-14.54 L-0.00,-15.13 L1.37,-15.65 L2.80,-15.88 L4.20,-15.68 L5.48,-15.05 L6.58,-14.10 L7.52,-13.02 L8.36,-11.94 L9.18,-10.94 L10.00,-10.00 L10.78,-9.05 L11.48,-8.04 L12.05,-6.96 L12.54,-5.85 L13.02,-4.74 L13.62,-3.65 L14.38,-2.54 L15.27,-1.34Z" fill="#9894cc" stroke="#9894cc" stroke-width="0.8" stroke-linejoin="round"/>
<ellipse cx="0.7" cy="0.8" rx="8.3" ry="7" fill="#6b67a8" transform="rotate(-22 0.7 0.8)"/>
</g>
<text x="409.5" y="501.4" font-size="12.3" fill="#7c80c4" stroke="#7c80c4" stroke-width="0.4" textLength="71.3" lengthAdjust="spacingAndGlyphs" >Dendritic cell</text>
<defs><linearGradient id="bl" gradientUnits="userSpaceOnUse" x1="520" y1="0" x2="756" y2="0"><stop offset="0" stop-color="#a8a4ac" stop-opacity="0"/><stop offset="0.12" stop-color="#a8a4ac" stop-opacity="0.9"/><stop offset="0.85" stop-color="#a8a4ac"/><stop offset="0.9" stop-color="#8fb2ea"/><stop offset="1" stop-color="#8fb2ea"/></linearGradient></defs>
<line x1="520" y1="505.8" x2="756" y2="505.8" stroke="url(#bl)" stroke-width="0.9"/>
</svg></body></html>
